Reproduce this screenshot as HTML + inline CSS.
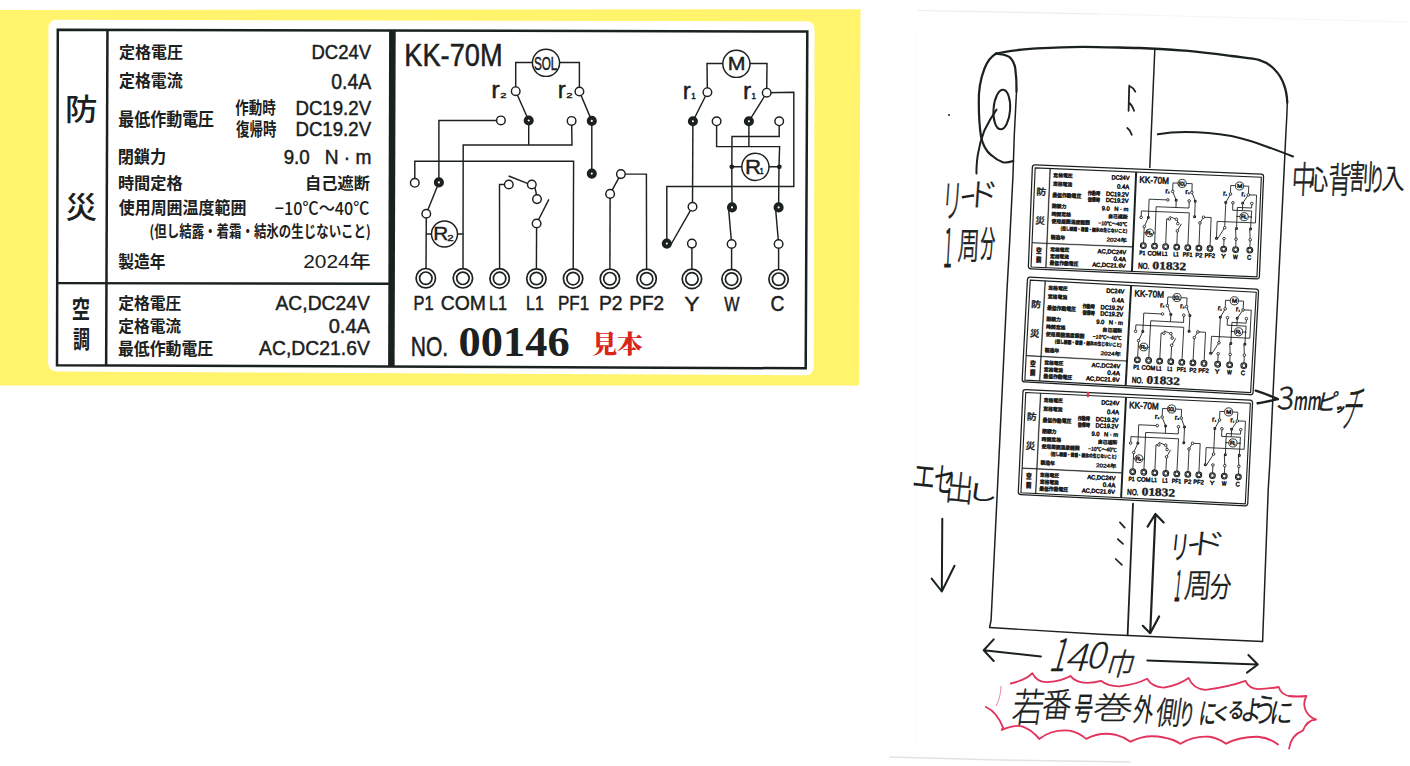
<!DOCTYPE html>
<html lang="ja"><head><meta charset="utf-8"><title>KK-70M ラベル仕様</title>
<style>html,body{margin:0;padding:0;background:#fff}svg{display:block}text{white-space:pre}</style></head><body>
<svg width="1410" height="766" viewBox="0 0 1410 766">
<rect width="1410" height="766" fill="#fff"/>
<polygon points="0,10 860.5,9.2 858.9,385.4 0,385.4" fill="#fff46c"/>
<g id="biglabel"><path d="M57,19.8 L806,21.3 Q814.6,21.4 814.6,30 L813.8,366 Q813.7,375.6 805,375.3 L57,371.4 Q48.1,371.3 48.1,362.5 L48.4,28.5 Q48.4,19.8 57,19.8 Z" fill="#fff"/>
<polygon points="57.8,29.7 807.3,31.5 805.7,368.3 57.0,365.2" fill="none" stroke="#1b2020" stroke-width="2.50"/>
<polygon points="106.2,29.8 108.7,29.8 107.4,365.4 104.9,365.4" fill="#1b2020" stroke="#1b2020" stroke-width="0.00"/>
<polygon points="389.1,30.4 395.7,30.4 394.6,367 388.1,367" fill="#1b2020"/>
<polygon points="57.3,281.9 389,282.6 389,285.0 57.3,284.2" fill="#1b2020" stroke="#1b2020" stroke-width="0.00"/>
<polyline points="546.0,62.4 515.7,62.4 515.7,91.2" fill="none" stroke="#1b2020" stroke-width="1.45" stroke-linejoin="miter" />
<polyline points="546.0,62.4 579.4,62.4 579.4,91.5" fill="none" stroke="#1b2020" stroke-width="1.45" stroke-linejoin="miter" />
<polyline points="515.7,91.2 528.7,120.5" fill="none" stroke="#1b2020" stroke-width="1.45" stroke-linejoin="miter" />
<polyline points="579.4,91.5 591.8,120.9" fill="none" stroke="#1b2020" stroke-width="1.45" stroke-linejoin="miter" />
<polyline points="500.9,120.4 438.9,120.4 438.9,182.4" fill="none" stroke="#1b2020" stroke-width="1.45" stroke-linejoin="miter" />
<polyline points="528.7,120.5 528.7,144.9" fill="none" stroke="#1b2020" stroke-width="1.45" stroke-linejoin="miter" />
<polyline points="571.6,120.9 572.0,144.9 463.2,144.9 463.0,270.0" fill="none" stroke="#1b2020" stroke-width="1.45" stroke-linejoin="miter" />
<polyline points="591.8,120.9 591.8,173.6" fill="none" stroke="#1b2020" stroke-width="1.45" stroke-linejoin="miter" />
<polyline points="414.8,182.8 414.8,161.2 573.6,161.2 573.2,270.0" fill="none" stroke="#1b2020" stroke-width="1.45" stroke-linejoin="miter" />
<polyline points="438.9,182.4 426.3,213.7" fill="none" stroke="#1b2020" stroke-width="1.45" stroke-linejoin="miter" />
<polyline points="426.3,213.7 426.0,270.0" fill="none" stroke="#1b2020" stroke-width="1.45" stroke-linejoin="miter" />
<polyline points="426.3,234.0 463.2,234.0" fill="none" stroke="#1b2020" stroke-width="1.45" stroke-linejoin="miter" />
<polyline points="499.6,270.0 499.5,184.5 508.8,184.5" fill="none" stroke="#1b2020" stroke-width="1.45" stroke-linejoin="miter" />
<polyline points="508.6,176.0 528.0,183.6" fill="none" stroke="#1b2020" stroke-width="1.45" stroke-linejoin="miter" />
<polyline points="534.8,187.2 536.6,195.0" fill="none" stroke="#1b2020" stroke-width="1.45" stroke-linejoin="miter" />
<polyline points="548.9,199.3 536.6,223.5" fill="none" stroke="#1b2020" stroke-width="1.45" stroke-linejoin="miter" />
<polyline points="536.6,223.5 536.4,270.0" fill="none" stroke="#1b2020" stroke-width="1.45" stroke-linejoin="miter" />
<polyline points="620.9,174.1 646.4,174.1 646.6,270.0" fill="none" stroke="#1b2020" stroke-width="1.45" stroke-linejoin="miter" />
<polyline points="620.9,174.1 610.1,193.9" fill="none" stroke="#1b2020" stroke-width="1.45" stroke-linejoin="miter" />
<polyline points="610.1,193.9 609.9,270.0" fill="none" stroke="#1b2020" stroke-width="1.45" stroke-linejoin="miter" />
<polyline points="736.0,63.4 707.0,63.4 707.4,92.2" fill="none" stroke="#1b2020" stroke-width="1.45" stroke-linejoin="miter" />
<polyline points="736.0,63.4 767.0,63.4 766.7,92.7" fill="none" stroke="#1b2020" stroke-width="1.45" stroke-linejoin="miter" />
<polyline points="707.4,92.2 692.9,121.3" fill="none" stroke="#1b2020" stroke-width="1.45" stroke-linejoin="miter" />
<polyline points="766.7,92.7 748.9,121.3" fill="none" stroke="#1b2020" stroke-width="1.45" stroke-linejoin="miter" />
<polyline points="766.7,92.7 793.8,92.3 793.8,186.4 666.8,186.4 666.8,243.6" fill="none" stroke="#1b2020" stroke-width="1.45" stroke-linejoin="miter" />
<polyline points="692.9,121.3 692.5,206.8" fill="none" stroke="#1b2020" stroke-width="1.45" stroke-linejoin="miter" />
<polyline points="716.6,121.3 716.6,146.6 779.6,146.6 779.0,166.8 778.6,207.4" fill="none" stroke="#1b2020" stroke-width="1.45" stroke-linejoin="miter" />
<polyline points="748.9,121.3 748.9,146.6" fill="none" stroke="#1b2020" stroke-width="1.45" stroke-linejoin="miter" />
<polyline points="779.2,121.3 779.2,136.5 732.0,136.5 731.8,166.8 732.0,207.4" fill="none" stroke="#1b2020" stroke-width="1.45" stroke-linejoin="miter" />
<polyline points="731.8,166.8 779.4,166.8" fill="none" stroke="#1b2020" stroke-width="1.45" stroke-linejoin="miter" />
<polyline points="692.5,206.8 669.5,247.0" fill="none" stroke="#1b2020" stroke-width="1.45" stroke-linejoin="miter" />
<polyline points="691.9,243.6 691.9,270.0" fill="none" stroke="#1b2020" stroke-width="1.45" stroke-linejoin="miter" />
<polyline points="728.6,209.0 731.3,240.0 731.6,244.0 731.6,270.0" fill="none" stroke="#1b2020" stroke-width="1.45" stroke-linejoin="miter" />
<polyline points="775.6,209.0 778.3,240.0 778.6,244.0 778.6,270.0" fill="none" stroke="#1b2020" stroke-width="1.45" stroke-linejoin="miter" />
<circle cx="546.0" cy="62.8" r="13.6" fill="#fff" stroke="#1b2020" stroke-width="1.45"/>
<circle cx="736.4" cy="63.8" r="13.6" fill="#fff" stroke="#1b2020" stroke-width="1.45"/>
<circle cx="755.4" cy="166.8" r="13.6" fill="#fff" stroke="#1b2020" stroke-width="1.45"/>
<circle cx="444.5" cy="234.0" r="13.0" fill="#fff" stroke="#1b2020" stroke-width="1.45"/>
<circle cx="515.7" cy="91.2" r="4.3" fill="#fff" stroke="#1b2020" stroke-width="1.45"/>
<circle cx="579.4" cy="91.5" r="4.3" fill="#fff" stroke="#1b2020" stroke-width="1.45"/>
<circle cx="500.9" cy="120.4" r="4.3" fill="#fff" stroke="#1b2020" stroke-width="1.45"/>
<circle cx="571.6" cy="120.9" r="4.3" fill="#fff" stroke="#1b2020" stroke-width="1.45"/>
<circle cx="414.8" cy="182.8" r="4.3" fill="#fff" stroke="#1b2020" stroke-width="1.45"/>
<circle cx="426.3" cy="213.7" r="4.3" fill="#fff" stroke="#1b2020" stroke-width="1.45"/>
<circle cx="508.8" cy="184.5" r="4.3" fill="#fff" stroke="#1b2020" stroke-width="1.45"/>
<circle cx="531.8" cy="184.5" r="4.3" fill="#fff" stroke="#1b2020" stroke-width="1.45"/>
<circle cx="537.0" cy="199.1" r="4.3" fill="#fff" stroke="#1b2020" stroke-width="1.45"/>
<circle cx="536.6" cy="223.5" r="4.3" fill="#fff" stroke="#1b2020" stroke-width="1.45"/>
<circle cx="620.9" cy="174.1" r="4.3" fill="#fff" stroke="#1b2020" stroke-width="1.45"/>
<circle cx="610.1" cy="193.9" r="4.3" fill="#fff" stroke="#1b2020" stroke-width="1.45"/>
<circle cx="707.4" cy="92.2" r="4.3" fill="#fff" stroke="#1b2020" stroke-width="1.45"/>
<circle cx="766.7" cy="92.7" r="4.3" fill="#fff" stroke="#1b2020" stroke-width="1.45"/>
<circle cx="716.6" cy="121.3" r="4.3" fill="#fff" stroke="#1b2020" stroke-width="1.45"/>
<circle cx="779.2" cy="121.3" r="4.3" fill="#fff" stroke="#1b2020" stroke-width="1.45"/>
<circle cx="692.5" cy="206.8" r="4.3" fill="#fff" stroke="#1b2020" stroke-width="1.45"/>
<circle cx="691.9" cy="243.6" r="4.3" fill="#fff" stroke="#1b2020" stroke-width="1.45"/>
<circle cx="731.6" cy="244.0" r="4.3" fill="#fff" stroke="#1b2020" stroke-width="1.45"/>
<circle cx="778.6" cy="244.0" r="4.3" fill="#fff" stroke="#1b2020" stroke-width="1.45"/>
<circle cx="528.7" cy="120.5" r="3.05" fill="#fff" stroke="#1b2020" stroke-width="4.0"/>
<circle cx="591.8" cy="120.9" r="3.05" fill="#fff" stroke="#1b2020" stroke-width="4.0"/>
<circle cx="438.9" cy="182.4" r="3.05" fill="#fff" stroke="#1b2020" stroke-width="4.0"/>
<circle cx="591.8" cy="173.6" r="3.05" fill="#fff" stroke="#1b2020" stroke-width="4.0"/>
<circle cx="692.9" cy="121.3" r="3.05" fill="#fff" stroke="#1b2020" stroke-width="4.0"/>
<circle cx="748.9" cy="121.3" r="3.05" fill="#fff" stroke="#1b2020" stroke-width="4.0"/>
<circle cx="666.8" cy="243.6" r="3.05" fill="#fff" stroke="#1b2020" stroke-width="4.0"/>
<circle cx="732.0" cy="207.4" r="3.05" fill="#fff" stroke="#1b2020" stroke-width="4.0"/>
<circle cx="778.6" cy="207.4" r="3.05" fill="#fff" stroke="#1b2020" stroke-width="4.0"/>
<circle cx="731.8" cy="166.8" r="2.4" fill="#1b2020"/>
<circle cx="779.3" cy="166.8" r="2.4" fill="#1b2020"/>
<circle cx="425.8" cy="278.2" r="9.7" fill="#fff" stroke="#1b2020" stroke-width="1.70"/><circle cx="425.8" cy="278.2" r="6.2" fill="#fff" stroke="#1b2020" stroke-width="1.70"/>
<circle cx="462.9" cy="278.3" r="9.7" fill="#fff" stroke="#1b2020" stroke-width="1.70"/><circle cx="462.9" cy="278.3" r="6.2" fill="#fff" stroke="#1b2020" stroke-width="1.70"/>
<circle cx="499.6" cy="278.4" r="9.7" fill="#fff" stroke="#1b2020" stroke-width="1.70"/><circle cx="499.6" cy="278.4" r="6.2" fill="#fff" stroke="#1b2020" stroke-width="1.70"/>
<circle cx="536.4" cy="278.5" r="9.7" fill="#fff" stroke="#1b2020" stroke-width="1.70"/><circle cx="536.4" cy="278.5" r="6.2" fill="#fff" stroke="#1b2020" stroke-width="1.70"/>
<circle cx="573.1" cy="278.6" r="9.7" fill="#fff" stroke="#1b2020" stroke-width="1.70"/><circle cx="573.1" cy="278.6" r="6.2" fill="#fff" stroke="#1b2020" stroke-width="1.70"/>
<circle cx="609.9" cy="278.7" r="9.7" fill="#fff" stroke="#1b2020" stroke-width="1.70"/><circle cx="609.9" cy="278.7" r="6.2" fill="#fff" stroke="#1b2020" stroke-width="1.70"/>
<circle cx="646.6" cy="278.8" r="9.7" fill="#fff" stroke="#1b2020" stroke-width="1.70"/><circle cx="646.6" cy="278.8" r="6.2" fill="#fff" stroke="#1b2020" stroke-width="1.70"/>
<circle cx="691.9" cy="278.9" r="9.7" fill="#fff" stroke="#1b2020" stroke-width="1.70"/><circle cx="691.9" cy="278.9" r="6.2" fill="#fff" stroke="#1b2020" stroke-width="1.70"/>
<circle cx="731.6" cy="279.1" r="9.7" fill="#fff" stroke="#1b2020" stroke-width="1.70"/><circle cx="731.6" cy="279.1" r="6.2" fill="#fff" stroke="#1b2020" stroke-width="1.70"/>
<circle cx="778.6" cy="279.2" r="9.7" fill="#fff" stroke="#1b2020" stroke-width="1.70"/><circle cx="778.6" cy="279.2" r="6.2" fill="#fff" stroke="#1b2020" stroke-width="1.70"/>
<text transform="matrix(0.5423 0.0000 0.0000 0.4964 65.09 120.32)" font-family='"Noto Sans CJK JP", sans-serif' font-weight="500" font-size="60" fill="#1b2020">防</text>
<text transform="matrix(0.5255 0.0000 0.0000 0.5036 65.52 218.48)" font-family='"Noto Sans CJK JP", sans-serif' font-weight="500" font-size="60" fill="#1b2020">災</text>
<text transform="matrix(0.3058 0.0000 0.0000 0.4073 71.68 317.77)" font-family='"Noto Sans CJK JP", sans-serif' font-weight="700" font-size="60" fill="#1b2020">空</text>
<text transform="matrix(0.2833 0.0000 0.0000 0.4018 72.93 347.89)" font-family='"Noto Sans CJK JP", sans-serif' font-weight="700" font-size="60" fill="#1b2020">調</text>
<text transform="matrix(0.2669 0.0000 0.0000 0.2672 118.97 57.80)" font-family='"Noto Sans CJK JP", sans-serif' font-weight="700" font-size="60" fill="#1b2020">定格電圧</text>
<text transform="matrix(0.3085 0.0000 0.0000 0.3463 311.46 58.70)" font-family='"Liberation Sans", sans-serif' font-weight="400" font-size="60" stroke="#1b2020" stroke-width="1.38" stroke-linejoin="round" fill="#1b2020">DC24V</text>
<text transform="matrix(0.2658 0.0000 0.0000 0.2776 118.97 87.33)" font-family='"Noto Sans CJK JP", sans-serif' font-weight="700" font-size="60" fill="#1b2020">定格電流</text>
<text transform="matrix(0.3240 0.0000 0.0000 0.3561 331.25 88.90)" font-family='"Liberation Sans", sans-serif' font-weight="400" font-size="60" stroke="#1b2020" stroke-width="1.32" stroke-linejoin="round" fill="#1b2020">0.4A</text>
<text transform="matrix(0.2665 0.0000 0.0000 0.3000 118.20 125.70)" font-family='"Noto Sans CJK JP", sans-serif' font-weight="700" font-size="60" fill="#1b2020">最低作動電圧</text>
<text transform="matrix(0.2244 0.0000 0.0000 0.2930 235.35 114.24)" font-family='"Noto Sans CJK JP", sans-serif' font-weight="700" font-size="60" fill="#1b2020">作動時</text>
<text transform="matrix(0.2243 0.0000 0.0000 0.2948 236.08 135.93)" font-family='"Noto Sans CJK JP", sans-serif' font-weight="700" font-size="60" fill="#1b2020">復帰時</text>
<text transform="matrix(0.3109 0.0000 0.0000 0.3415 295.45 114.90)" font-family='"Liberation Sans", sans-serif' font-weight="400" font-size="60" stroke="#1b2020" stroke-width="1.38" stroke-linejoin="round" fill="#1b2020">DC19.2V</text>
<text transform="matrix(0.3109 0.0000 0.0000 0.3415 295.45 136.00)" font-family='"Liberation Sans", sans-serif' font-weight="400" font-size="60" stroke="#1b2020" stroke-width="1.38" stroke-linejoin="round" fill="#1b2020">DC19.2V</text>
<text transform="matrix(0.2694 0.0000 0.0000 0.2810 117.65 162.61)" font-family='"Noto Sans CJK JP", sans-serif' font-weight="700" font-size="60" fill="#1b2020">閉鎖力</text>
<text transform="matrix(0.3128 0.0000 0.0000 0.3366 283.66 164.00)" font-family='"Liberation Sans", sans-serif' font-weight="400" font-size="60" stroke="#1b2020" stroke-width="1.39" stroke-linejoin="round" fill="#1b2020">9.0</text>
<text transform="matrix(0.3188 0.0000 0.0000 0.3293 324.71 163.90)" font-family='"Liberation Sans", sans-serif' font-weight="400" font-size="60" stroke="#1b2020" stroke-width="1.39" stroke-linejoin="round" fill="#1b2020">N · m</text>
<text transform="matrix(0.2702 0.0000 0.0000 0.2707 117.92 189.08)" font-family='"Noto Sans CJK JP", sans-serif' font-weight="700" font-size="60" fill="#1b2020">時間定格</text>
<text transform="matrix(0.2712 0.0000 0.0000 0.2707 305.06 189.08)" font-family='"Noto Sans CJK JP", sans-serif' font-weight="700" font-size="60" fill="#1b2020">自己遮断</text>
<text transform="matrix(0.2659 0.0000 0.0000 0.2793 118.73 213.92)" font-family='"Noto Sans CJK JP", sans-serif' font-weight="700" font-size="60" fill="#1b2020">使用周囲温度範囲</text>
<text transform="matrix(0.2700 0.0000 0.0000 0.2979 274.76 214.50)" font-family='"Noto Sans CJK JP", sans-serif' font-weight="500" font-size="60" fill="#1b2020">−10℃～40℃</text>
<text transform="matrix(0.2076 0.0000 0.0000 0.2641 149.56 236.83)" font-family='"Noto Sans CJK JP", sans-serif' font-weight="700" font-size="60" fill="#1b2020">(但し結露・着霜・結氷の生じないこと)</text>
<text transform="matrix(0.2625 0.0000 0.0000 0.2862 118.18 268.08)" font-family='"Noto Sans CJK JP", sans-serif' font-weight="700" font-size="60" fill="#1b2020">製造年</text>
<text transform="matrix(0.3484 0.0000 0.0000 0.2964 303.25 268.32)" font-family='"Liberation Sans", "Noto Sans CJK JP", sans-serif' font-weight="500" font-size="60" fill="#1b2020">2024年</text>
<text transform="matrix(0.2636 0.0000 0.0000 0.2638 118.17 308.62)" font-family='"Noto Sans CJK JP", sans-serif' font-weight="700" font-size="60" fill="#1b2020">定格電圧</text>
<text transform="matrix(0.3218 0.0000 0.0000 0.3375 275.50 309.54)" font-family='"Liberation Sans", sans-serif' font-weight="400" font-size="60" stroke="#1b2020" stroke-width="1.37" stroke-linejoin="round" fill="#1b2020">AC,DC24V</text>
<text transform="matrix(0.2624 0.0000 0.0000 0.2741 118.18 331.96)" font-family='"Noto Sans CJK JP", sans-serif' font-weight="700" font-size="60" fill="#1b2020">定格電流</text>
<text transform="matrix(0.3339 0.0000 0.0000 0.3439 328.73 333.20)" font-family='"Liberation Sans", sans-serif' font-weight="400" font-size="60" stroke="#1b2020" stroke-width="1.33" stroke-linejoin="round" fill="#1b2020">0.4A</text>
<text transform="matrix(0.2651 0.0000 0.0000 0.2912 117.90 354.85)" font-family='"Noto Sans CJK JP", sans-serif' font-weight="700" font-size="60" fill="#1b2020">最低作動電圧</text>
<text transform="matrix(0.3227 0.0000 0.0000 0.3271 259.10 355.11)" font-family='"Liberation Sans", sans-serif' font-weight="400" font-size="60" stroke="#1b2020" stroke-width="1.39" stroke-linejoin="round" fill="#1b2020">AC,DC21.6V</text>
<text transform="matrix(0.4541 0.0000 0.0000 0.5317 404.23 66.30)" font-family='"Liberation Sans", sans-serif' font-weight="400" font-size="60" stroke="#1b2020" stroke-width="0.92" stroke-linejoin="round" fill="#1b2020">KK-70M</text>
<text transform="matrix(0.1948 0.0000 0.0000 0.3098 533.92 69.70)" font-family='"Liberation Sans", sans-serif' font-weight="400" font-size="60" stroke="#1b2020" stroke-width="1.83" stroke-linejoin="round" fill="#1b2020">SOL</text>
<text transform="matrix(0.3550 0.0000 0.0000 0.3146 727.73 70.10)" font-family='"Liberation Sans", sans-serif' font-weight="400" font-size="60" stroke="#1b2020" stroke-width="1.35" stroke-linejoin="round" fill="#1b2020">M</text>
<text transform="matrix(0.3714 0.0000 0.0000 0.3220 744.94 173.70)" font-family='"Liberation Sans", sans-serif' font-weight="400" font-size="60" stroke="#1b2020" stroke-width="1.30" stroke-linejoin="round" fill="#1b2020">R</text>
<text transform="matrix(0.1160 0.0000 0.0000 0.1439 759.72 174.10)" font-family='"Liberation Sans", sans-serif' font-weight="400" font-size="60" stroke="#1b2020" stroke-width="3.48" stroke-linejoin="round" fill="#1b2020">1</text>
<text transform="matrix(0.3457 0.0000 0.0000 0.3049 433.37 240.20)" font-family='"Liberation Sans", sans-serif' font-weight="400" font-size="60" stroke="#1b2020" stroke-width="1.39" stroke-linejoin="round" fill="#1b2020">R</text>
<text transform="matrix(0.1889 0.0000 0.0000 0.1390 447.23 240.90)" font-family='"Liberation Sans", sans-serif' font-weight="400" font-size="60" stroke="#1b2020" stroke-width="2.78" stroke-linejoin="round" fill="#1b2020">2</text>
<text transform="matrix(0.4267 0.0000 0.0000 0.3968 491.29 97.90)" font-family='"Liberation Sans", sans-serif' font-weight="400" font-size="60" stroke="#1b2020" stroke-width="1.09" stroke-linejoin="round" fill="#1b2020">r</text>
<text transform="matrix(0.1852 0.0000 0.0000 0.1317 500.14 97.90)" font-family='"Liberation Sans", sans-serif' font-weight="400" font-size="60" stroke="#1b2020" stroke-width="2.88" stroke-linejoin="round" fill="#1b2020">2</text>
<text transform="matrix(0.4000 0.0000 0.0000 0.3968 557.80 97.90)" font-family='"Liberation Sans", sans-serif' font-weight="400" font-size="60" stroke="#1b2020" stroke-width="1.13" stroke-linejoin="round" fill="#1b2020">r</text>
<text transform="matrix(0.1889 0.0000 0.0000 0.1317 566.33 97.90)" font-family='"Liberation Sans", sans-serif' font-weight="400" font-size="60" stroke="#1b2020" stroke-width="2.85" stroke-linejoin="round" fill="#1b2020">2</text>
<text transform="matrix(0.4000 0.0000 0.0000 0.3968 682.80 98.50)" font-family='"Liberation Sans", sans-serif' font-weight="400" font-size="60" stroke="#1b2020" stroke-width="1.13" stroke-linejoin="round" fill="#1b2020">r</text>
<text transform="matrix(0.1360 0.0000 0.0000 0.1390 691.32 98.50)" font-family='"Liberation Sans", sans-serif' font-weight="400" font-size="60" stroke="#1b2020" stroke-width="3.27" stroke-linejoin="round" fill="#1b2020">1</text>
<text transform="matrix(0.4067 0.0000 0.0000 0.3968 743.07 98.50)" font-family='"Liberation Sans", sans-serif' font-weight="400" font-size="60" stroke="#1b2020" stroke-width="1.12" stroke-linejoin="round" fill="#1b2020">r</text>
<text transform="matrix(0.1360 0.0000 0.0000 0.1390 751.52 98.50)" font-family='"Liberation Sans", sans-serif' font-weight="400" font-size="60" stroke="#1b2020" stroke-width="3.27" stroke-linejoin="round" fill="#1b2020">1</text>
<text transform="matrix(0.2738 0.0000 0.0000 0.3390 413.53 309.60)" font-family='"Liberation Sans", sans-serif' font-weight="400" font-size="60" stroke="#1b2020" stroke-width="1.48" stroke-linejoin="round" fill="#1b2020">P1</text>
<text transform="matrix(0.3235 0.0000 0.0000 0.3488 440.73 309.80)" font-family='"Liberation Sans", sans-serif' font-weight="400" font-size="60" stroke="#1b2020" stroke-width="1.34" stroke-linejoin="round" fill="#1b2020">COM</text>
<text transform="matrix(0.2712 0.0000 0.0000 0.3390 489.04 309.60)" font-family='"Liberation Sans", sans-serif' font-weight="400" font-size="60" stroke="#1b2020" stroke-width="1.48" stroke-linejoin="round" fill="#1b2020">L1</text>
<text transform="matrix(0.2644 0.0000 0.0000 0.3390 526.08 309.60)" font-family='"Liberation Sans", sans-serif' font-weight="400" font-size="60" stroke="#1b2020" stroke-width="1.50" stroke-linejoin="round" fill="#1b2020">L1</text>
<text transform="matrix(0.2843 0.0000 0.0000 0.3390 557.98 309.60)" font-family='"Liberation Sans", sans-serif' font-weight="400" font-size="60" stroke="#1b2020" stroke-width="1.45" stroke-linejoin="round" fill="#1b2020">PF1</text>
<text transform="matrix(0.3215 0.0000 0.0000 0.3390 598.89 309.60)" font-family='"Liberation Sans", sans-serif' font-weight="400" font-size="60" stroke="#1b2020" stroke-width="1.36" stroke-linejoin="round" fill="#1b2020">P2</text>
<text transform="matrix(0.3157 0.0000 0.0000 0.3390 629.32 309.60)" font-family='"Liberation Sans", sans-serif' font-weight="400" font-size="60" stroke="#1b2020" stroke-width="1.38" stroke-linejoin="round" fill="#1b2020">PF2</text>
<text transform="matrix(0.3833 0.0000 0.0000 0.3415 684.23 310.50)" font-family='"Liberation Sans", sans-serif' font-weight="400" font-size="60" stroke="#1b2020" stroke-width="1.24" stroke-linejoin="round" fill="#1b2020">Y</text>
<text transform="matrix(0.2696 0.0000 0.0000 0.3463 724.20 310.90)" font-family='"Liberation Sans", sans-serif' font-weight="400" font-size="60" stroke="#1b2020" stroke-width="1.47" stroke-linejoin="round" fill="#1b2020">W</text>
<text transform="matrix(0.3211 0.0000 0.0000 0.3610 770.44 311.30)" font-family='"Liberation Sans", sans-serif' font-weight="400" font-size="60" stroke="#1b2020" stroke-width="1.32" stroke-linejoin="round" fill="#1b2020">C</text>
<text transform="matrix(0.3510 0.0000 0.0000 0.4756 410.74 355.90)" font-family='"Liberation Sans", sans-serif' font-weight="400" font-size="60" stroke="#1b2020" stroke-width="1.10" stroke-linejoin="round" fill="#1b2020">NO.</text>
<text transform="matrix(0.7404 0.0000 0.0000 0.7026 458.62 356.30)" font-family='"Liberation Serif", "Noto Serif CJK SC", serif' font-weight="700" font-size="60" fill="#1b2020">00146</text>
<text transform="matrix(0.4239 0.0000 0.0000 0.4121 591.75 352.83)" font-family='"Liberation Serif", "Noto Serif CJK SC", serif' font-weight="900" font-size="60" fill="#d9261c">見本</text></g>
<g id="sketch">
<g transform="translate(1032.4 164.8) rotate(2.25) scale(0.3020 0.2960) translate(-48.2 -19.8)"><path d="M57,19.8 L806,21.3 Q814.6,21.4 814.6,30 L813.8,366 Q813.7,375.6 805,375.3 L57,371.4 Q48.1,371.3 48.1,362.5 L48.4,28.5 Q48.4,19.8 57,19.8 Z" fill="#fff" stroke="#1b2020" stroke-width="4.2"/>
<polygon points="57.8,29.7 807.3,31.5 805.7,368.3 57.0,365.2" fill="none" stroke="#1b2020" stroke-width="3.75"/>
<polygon points="106.2,29.8 108.7,29.8 107.4,365.4 104.9,365.4" fill="#1b2020" stroke="#1b2020" stroke-width="1.25"/>
<polygon points="389.1,30.4 395.7,30.4 394.6,367 388.1,367" fill="#1b2020"/>
<polygon points="57.3,281.9 389,282.6 389,285.0 57.3,284.2" fill="#1b2020" stroke="#1b2020" stroke-width="1.25"/>
<polyline points="546.0,62.4 515.7,62.4 515.7,91.2" fill="none" stroke="#1b2020" stroke-width="2.90" stroke-linejoin="miter" />
<polyline points="546.0,62.4 579.4,62.4 579.4,91.5" fill="none" stroke="#1b2020" stroke-width="2.90" stroke-linejoin="miter" />
<polyline points="515.7,91.2 528.7,120.5" fill="none" stroke="#1b2020" stroke-width="2.90" stroke-linejoin="miter" />
<polyline points="579.4,91.5 591.8,120.9" fill="none" stroke="#1b2020" stroke-width="2.90" stroke-linejoin="miter" />
<polyline points="500.9,120.4 438.9,120.4 438.9,182.4" fill="none" stroke="#1b2020" stroke-width="2.90" stroke-linejoin="miter" />
<polyline points="528.7,120.5 528.7,144.9" fill="none" stroke="#1b2020" stroke-width="2.90" stroke-linejoin="miter" />
<polyline points="571.6,120.9 572.0,144.9 463.2,144.9 463.0,270.0" fill="none" stroke="#1b2020" stroke-width="2.90" stroke-linejoin="miter" />
<polyline points="591.8,120.9 591.8,173.6" fill="none" stroke="#1b2020" stroke-width="2.90" stroke-linejoin="miter" />
<polyline points="414.8,182.8 414.8,161.2 573.6,161.2 573.2,270.0" fill="none" stroke="#1b2020" stroke-width="2.90" stroke-linejoin="miter" />
<polyline points="438.9,182.4 426.3,213.7" fill="none" stroke="#1b2020" stroke-width="2.90" stroke-linejoin="miter" />
<polyline points="426.3,213.7 426.0,270.0" fill="none" stroke="#1b2020" stroke-width="2.90" stroke-linejoin="miter" />
<polyline points="426.3,234.0 463.2,234.0" fill="none" stroke="#1b2020" stroke-width="2.90" stroke-linejoin="miter" />
<polyline points="499.6,270.0 499.5,184.5 508.8,184.5" fill="none" stroke="#1b2020" stroke-width="2.90" stroke-linejoin="miter" />
<polyline points="508.6,176.0 528.0,183.6" fill="none" stroke="#1b2020" stroke-width="2.90" stroke-linejoin="miter" />
<polyline points="534.8,187.2 536.6,195.0" fill="none" stroke="#1b2020" stroke-width="2.90" stroke-linejoin="miter" />
<polyline points="548.9,199.3 536.6,223.5" fill="none" stroke="#1b2020" stroke-width="2.90" stroke-linejoin="miter" />
<polyline points="536.6,223.5 536.4,270.0" fill="none" stroke="#1b2020" stroke-width="2.90" stroke-linejoin="miter" />
<polyline points="620.9,174.1 646.4,174.1 646.6,270.0" fill="none" stroke="#1b2020" stroke-width="2.90" stroke-linejoin="miter" />
<polyline points="620.9,174.1 610.1,193.9" fill="none" stroke="#1b2020" stroke-width="2.90" stroke-linejoin="miter" />
<polyline points="610.1,193.9 609.9,270.0" fill="none" stroke="#1b2020" stroke-width="2.90" stroke-linejoin="miter" />
<polyline points="736.0,63.4 707.0,63.4 707.4,92.2" fill="none" stroke="#1b2020" stroke-width="2.90" stroke-linejoin="miter" />
<polyline points="736.0,63.4 767.0,63.4 766.7,92.7" fill="none" stroke="#1b2020" stroke-width="2.90" stroke-linejoin="miter" />
<polyline points="707.4,92.2 692.9,121.3" fill="none" stroke="#1b2020" stroke-width="2.90" stroke-linejoin="miter" />
<polyline points="766.7,92.7 748.9,121.3" fill="none" stroke="#1b2020" stroke-width="2.90" stroke-linejoin="miter" />
<polyline points="766.7,92.7 793.8,92.3 793.8,186.4 666.8,186.4 666.8,243.6" fill="none" stroke="#1b2020" stroke-width="2.90" stroke-linejoin="miter" />
<polyline points="692.9,121.3 692.5,206.8" fill="none" stroke="#1b2020" stroke-width="2.90" stroke-linejoin="miter" />
<polyline points="716.6,121.3 716.6,146.6 779.6,146.6 779.0,166.8 778.6,207.4" fill="none" stroke="#1b2020" stroke-width="2.90" stroke-linejoin="miter" />
<polyline points="748.9,121.3 748.9,146.6" fill="none" stroke="#1b2020" stroke-width="2.90" stroke-linejoin="miter" />
<polyline points="779.2,121.3 779.2,136.5 732.0,136.5 731.8,166.8 732.0,207.4" fill="none" stroke="#1b2020" stroke-width="2.90" stroke-linejoin="miter" />
<polyline points="731.8,166.8 779.4,166.8" fill="none" stroke="#1b2020" stroke-width="2.90" stroke-linejoin="miter" />
<polyline points="692.5,206.8 669.5,247.0" fill="none" stroke="#1b2020" stroke-width="2.90" stroke-linejoin="miter" />
<polyline points="691.9,243.6 691.9,270.0" fill="none" stroke="#1b2020" stroke-width="2.90" stroke-linejoin="miter" />
<polyline points="728.6,209.0 731.3,240.0 731.6,244.0 731.6,270.0" fill="none" stroke="#1b2020" stroke-width="2.90" stroke-linejoin="miter" />
<polyline points="775.6,209.0 778.3,240.0 778.6,244.0 778.6,270.0" fill="none" stroke="#1b2020" stroke-width="2.90" stroke-linejoin="miter" />
<circle cx="546.0" cy="62.8" r="13.6" fill="#fff" stroke="#1b2020" stroke-width="2.90"/>
<circle cx="736.4" cy="63.8" r="13.6" fill="#fff" stroke="#1b2020" stroke-width="2.90"/>
<circle cx="755.4" cy="166.8" r="13.6" fill="#fff" stroke="#1b2020" stroke-width="2.90"/>
<circle cx="444.5" cy="234.0" r="13.0" fill="#fff" stroke="#1b2020" stroke-width="2.90"/>
<circle cx="515.7" cy="91.2" r="4.3" fill="#fff" stroke="#1b2020" stroke-width="2.90"/>
<circle cx="579.4" cy="91.5" r="4.3" fill="#fff" stroke="#1b2020" stroke-width="2.90"/>
<circle cx="500.9" cy="120.4" r="4.3" fill="#fff" stroke="#1b2020" stroke-width="2.90"/>
<circle cx="571.6" cy="120.9" r="4.3" fill="#fff" stroke="#1b2020" stroke-width="2.90"/>
<circle cx="414.8" cy="182.8" r="4.3" fill="#fff" stroke="#1b2020" stroke-width="2.90"/>
<circle cx="426.3" cy="213.7" r="4.3" fill="#fff" stroke="#1b2020" stroke-width="2.90"/>
<circle cx="508.8" cy="184.5" r="4.3" fill="#fff" stroke="#1b2020" stroke-width="2.90"/>
<circle cx="531.8" cy="184.5" r="4.3" fill="#fff" stroke="#1b2020" stroke-width="2.90"/>
<circle cx="537.0" cy="199.1" r="4.3" fill="#fff" stroke="#1b2020" stroke-width="2.90"/>
<circle cx="536.6" cy="223.5" r="4.3" fill="#fff" stroke="#1b2020" stroke-width="2.90"/>
<circle cx="620.9" cy="174.1" r="4.3" fill="#fff" stroke="#1b2020" stroke-width="2.90"/>
<circle cx="610.1" cy="193.9" r="4.3" fill="#fff" stroke="#1b2020" stroke-width="2.90"/>
<circle cx="707.4" cy="92.2" r="4.3" fill="#fff" stroke="#1b2020" stroke-width="2.90"/>
<circle cx="766.7" cy="92.7" r="4.3" fill="#fff" stroke="#1b2020" stroke-width="2.90"/>
<circle cx="716.6" cy="121.3" r="4.3" fill="#fff" stroke="#1b2020" stroke-width="2.90"/>
<circle cx="779.2" cy="121.3" r="4.3" fill="#fff" stroke="#1b2020" stroke-width="2.90"/>
<circle cx="692.5" cy="206.8" r="4.3" fill="#fff" stroke="#1b2020" stroke-width="2.90"/>
<circle cx="691.9" cy="243.6" r="4.3" fill="#fff" stroke="#1b2020" stroke-width="2.90"/>
<circle cx="731.6" cy="244.0" r="4.3" fill="#fff" stroke="#1b2020" stroke-width="2.90"/>
<circle cx="778.6" cy="244.0" r="4.3" fill="#fff" stroke="#1b2020" stroke-width="2.90"/>
<circle cx="528.7" cy="120.5" r="3.05" fill="#fff" stroke="#1b2020" stroke-width="4.0"/>
<circle cx="591.8" cy="120.9" r="3.05" fill="#fff" stroke="#1b2020" stroke-width="4.0"/>
<circle cx="438.9" cy="182.4" r="3.05" fill="#fff" stroke="#1b2020" stroke-width="4.0"/>
<circle cx="591.8" cy="173.6" r="3.05" fill="#fff" stroke="#1b2020" stroke-width="4.0"/>
<circle cx="692.9" cy="121.3" r="3.05" fill="#fff" stroke="#1b2020" stroke-width="4.0"/>
<circle cx="748.9" cy="121.3" r="3.05" fill="#fff" stroke="#1b2020" stroke-width="4.0"/>
<circle cx="666.8" cy="243.6" r="3.05" fill="#fff" stroke="#1b2020" stroke-width="4.0"/>
<circle cx="732.0" cy="207.4" r="3.05" fill="#fff" stroke="#1b2020" stroke-width="4.0"/>
<circle cx="778.6" cy="207.4" r="3.05" fill="#fff" stroke="#1b2020" stroke-width="4.0"/>
<circle cx="731.8" cy="166.8" r="2.4" fill="#1b2020"/>
<circle cx="779.3" cy="166.8" r="2.4" fill="#1b2020"/>
<circle cx="425.8" cy="278.2" r="9.7" fill="#fff" stroke="#1b2020" stroke-width="3.40"/><circle cx="425.8" cy="278.2" r="6.2" fill="#fff" stroke="#1b2020" stroke-width="3.40"/>
<circle cx="462.9" cy="278.3" r="9.7" fill="#fff" stroke="#1b2020" stroke-width="3.40"/><circle cx="462.9" cy="278.3" r="6.2" fill="#fff" stroke="#1b2020" stroke-width="3.40"/>
<circle cx="499.6" cy="278.4" r="9.7" fill="#fff" stroke="#1b2020" stroke-width="3.40"/><circle cx="499.6" cy="278.4" r="6.2" fill="#fff" stroke="#1b2020" stroke-width="3.40"/>
<circle cx="536.4" cy="278.5" r="9.7" fill="#fff" stroke="#1b2020" stroke-width="3.40"/><circle cx="536.4" cy="278.5" r="6.2" fill="#fff" stroke="#1b2020" stroke-width="3.40"/>
<circle cx="573.1" cy="278.6" r="9.7" fill="#fff" stroke="#1b2020" stroke-width="3.40"/><circle cx="573.1" cy="278.6" r="6.2" fill="#fff" stroke="#1b2020" stroke-width="3.40"/>
<circle cx="609.9" cy="278.7" r="9.7" fill="#fff" stroke="#1b2020" stroke-width="3.40"/><circle cx="609.9" cy="278.7" r="6.2" fill="#fff" stroke="#1b2020" stroke-width="3.40"/>
<circle cx="646.6" cy="278.8" r="9.7" fill="#fff" stroke="#1b2020" stroke-width="3.40"/><circle cx="646.6" cy="278.8" r="6.2" fill="#fff" stroke="#1b2020" stroke-width="3.40"/>
<circle cx="691.9" cy="278.9" r="9.7" fill="#fff" stroke="#1b2020" stroke-width="3.40"/><circle cx="691.9" cy="278.9" r="6.2" fill="#fff" stroke="#1b2020" stroke-width="3.40"/>
<circle cx="731.6" cy="279.1" r="9.7" fill="#fff" stroke="#1b2020" stroke-width="3.40"/><circle cx="731.6" cy="279.1" r="6.2" fill="#fff" stroke="#1b2020" stroke-width="3.40"/>
<circle cx="778.6" cy="279.2" r="9.7" fill="#fff" stroke="#1b2020" stroke-width="3.40"/><circle cx="778.6" cy="279.2" r="6.2" fill="#fff" stroke="#1b2020" stroke-width="3.40"/>
<text transform="matrix(0.5423 0.0000 0.0000 0.4964 65.09 120.32)" font-family='"Noto Sans CJK JP", sans-serif' font-weight="500" font-size="60" stroke="#1b2020" stroke-width="2.51" stroke-linejoin="round" fill="#1b2020">防</text>
<text transform="matrix(0.5255 0.0000 0.0000 0.5036 65.52 218.48)" font-family='"Noto Sans CJK JP", sans-serif' font-weight="500" font-size="60" stroke="#1b2020" stroke-width="2.53" stroke-linejoin="round" fill="#1b2020">災</text>
<text transform="matrix(0.3058 0.0000 0.0000 0.4073 71.68 317.77)" font-family='"Noto Sans CJK JP", sans-serif' font-weight="700" font-size="60" stroke="#1b2020" stroke-width="3.68" stroke-linejoin="round" fill="#1b2020">空</text>
<text transform="matrix(0.2833 0.0000 0.0000 0.4018 72.93 347.89)" font-family='"Noto Sans CJK JP", sans-serif' font-weight="700" font-size="60" stroke="#1b2020" stroke-width="3.85" stroke-linejoin="round" fill="#1b2020">調</text>
<text transform="matrix(0.2669 0.0000 0.0000 0.2672 118.97 57.80)" font-family='"Noto Sans CJK JP", sans-serif' font-weight="700" font-size="60" stroke="#1b2020" stroke-width="4.87" stroke-linejoin="round" fill="#1b2020">定格電圧</text>
<text transform="matrix(0.3085 0.0000 0.0000 0.3463 311.46 58.70)" font-family='"Liberation Sans", sans-serif' font-weight="400" font-size="60" stroke="#1b2020" stroke-width="5.35" stroke-linejoin="round" fill="#1b2020">DC24V</text>
<text transform="matrix(0.2658 0.0000 0.0000 0.2776 118.97 87.33)" font-family='"Noto Sans CJK JP", sans-serif' font-weight="700" font-size="60" stroke="#1b2020" stroke-width="4.79" stroke-linejoin="round" fill="#1b2020">定格電流</text>
<text transform="matrix(0.3240 0.0000 0.0000 0.3561 331.25 88.90)" font-family='"Liberation Sans", sans-serif' font-weight="400" font-size="60" stroke="#1b2020" stroke-width="5.15" stroke-linejoin="round" fill="#1b2020">0.4A</text>
<text transform="matrix(0.2665 0.0000 0.0000 0.3000 118.20 125.70)" font-family='"Noto Sans CJK JP", sans-serif' font-weight="700" font-size="60" stroke="#1b2020" stroke-width="4.60" stroke-linejoin="round" fill="#1b2020">最低作動電圧</text>
<text transform="matrix(0.2244 0.0000 0.0000 0.2930 235.35 114.24)" font-family='"Noto Sans CJK JP", sans-serif' font-weight="700" font-size="60" stroke="#1b2020" stroke-width="5.07" stroke-linejoin="round" fill="#1b2020">作動時</text>
<text transform="matrix(0.2243 0.0000 0.0000 0.2948 236.08 135.93)" font-family='"Noto Sans CJK JP", sans-serif' font-weight="700" font-size="60" stroke="#1b2020" stroke-width="5.06" stroke-linejoin="round" fill="#1b2020">復帰時</text>
<text transform="matrix(0.3109 0.0000 0.0000 0.3415 295.45 114.90)" font-family='"Liberation Sans", sans-serif' font-weight="400" font-size="60" stroke="#1b2020" stroke-width="5.37" stroke-linejoin="round" fill="#1b2020">DC19.2V</text>
<text transform="matrix(0.3109 0.0000 0.0000 0.3415 295.45 136.00)" font-family='"Liberation Sans", sans-serif' font-weight="400" font-size="60" stroke="#1b2020" stroke-width="5.37" stroke-linejoin="round" fill="#1b2020">DC19.2V</text>
<text transform="matrix(0.2694 0.0000 0.0000 0.2810 117.65 162.61)" font-family='"Noto Sans CJK JP", sans-serif' font-weight="700" font-size="60" stroke="#1b2020" stroke-width="4.72" stroke-linejoin="round" fill="#1b2020">閉鎖力</text>
<text transform="matrix(0.3128 0.0000 0.0000 0.3366 283.66 164.00)" font-family='"Liberation Sans", sans-serif' font-weight="400" font-size="60" stroke="#1b2020" stroke-width="5.39" stroke-linejoin="round" fill="#1b2020">9.0</text>
<text transform="matrix(0.3188 0.0000 0.0000 0.3293 324.71 163.90)" font-family='"Liberation Sans", sans-serif' font-weight="400" font-size="60" stroke="#1b2020" stroke-width="5.40" stroke-linejoin="round" fill="#1b2020">N · m</text>
<text transform="matrix(0.2702 0.0000 0.0000 0.2707 117.92 189.08)" font-family='"Noto Sans CJK JP", sans-serif' font-weight="700" font-size="60" stroke="#1b2020" stroke-width="4.81" stroke-linejoin="round" fill="#1b2020">時間定格</text>
<text transform="matrix(0.2712 0.0000 0.0000 0.2707 305.06 189.08)" font-family='"Noto Sans CJK JP", sans-serif' font-weight="700" font-size="60" stroke="#1b2020" stroke-width="4.80" stroke-linejoin="round" fill="#1b2020">自己遮断</text>
<text transform="matrix(0.2659 0.0000 0.0000 0.2793 118.73 213.92)" font-family='"Noto Sans CJK JP", sans-serif' font-weight="700" font-size="60" stroke="#1b2020" stroke-width="4.77" stroke-linejoin="round" fill="#1b2020">使用周囲温度範囲</text>
<text transform="matrix(0.2700 0.0000 0.0000 0.2979 274.76 214.50)" font-family='"Noto Sans CJK JP", sans-serif' font-weight="500" font-size="60" stroke="#1b2020" stroke-width="4.58" stroke-linejoin="round" fill="#1b2020">−10℃～40℃</text>
<text transform="matrix(0.2076 0.0000 0.0000 0.2641 149.56 236.83)" font-family='"Noto Sans CJK JP", sans-serif' font-weight="700" font-size="60" stroke="#1b2020" stroke-width="5.55" stroke-linejoin="round" fill="#1b2020">(但し結露・着霜・結氷の生じないこと)</text>
<text transform="matrix(0.2625 0.0000 0.0000 0.2862 118.18 268.08)" font-family='"Noto Sans CJK JP", sans-serif' font-weight="700" font-size="60" stroke="#1b2020" stroke-width="4.74" stroke-linejoin="round" fill="#1b2020">製造年</text>
<text transform="matrix(0.3484 0.0000 0.0000 0.2964 303.25 268.32)" font-family='"Liberation Sans", "Noto Sans CJK JP", sans-serif' font-weight="500" font-size="60" stroke="#1b2020" stroke-width="4.05" stroke-linejoin="round" fill="#1b2020">2024年</text>
<text transform="matrix(0.2636 0.0000 0.0000 0.2638 118.17 308.62)" font-family='"Noto Sans CJK JP", sans-serif' font-weight="700" font-size="60" stroke="#1b2020" stroke-width="4.93" stroke-linejoin="round" fill="#1b2020">定格電圧</text>
<text transform="matrix(0.3218 0.0000 0.0000 0.3375 275.50 309.54)" font-family='"Liberation Sans", sans-serif' font-weight="400" font-size="60" stroke="#1b2020" stroke-width="5.31" stroke-linejoin="round" fill="#1b2020">AC,DC24V</text>
<text transform="matrix(0.2624 0.0000 0.0000 0.2741 118.18 331.96)" font-family='"Noto Sans CJK JP", sans-serif' font-weight="700" font-size="60" stroke="#1b2020" stroke-width="4.85" stroke-linejoin="round" fill="#1b2020">定格電流</text>
<text transform="matrix(0.3339 0.0000 0.0000 0.3439 328.73 333.20)" font-family='"Liberation Sans", sans-serif' font-weight="400" font-size="60" stroke="#1b2020" stroke-width="5.16" stroke-linejoin="round" fill="#1b2020">0.4A</text>
<text transform="matrix(0.2651 0.0000 0.0000 0.2912 117.90 354.85)" font-family='"Noto Sans CJK JP", sans-serif' font-weight="700" font-size="60" stroke="#1b2020" stroke-width="4.68" stroke-linejoin="round" fill="#1b2020">最低作動電圧</text>
<text transform="matrix(0.3227 0.0000 0.0000 0.3271 259.10 355.11)" font-family='"Liberation Sans", sans-serif' font-weight="400" font-size="60" stroke="#1b2020" stroke-width="5.39" stroke-linejoin="round" fill="#1b2020">AC,DC21.6V</text>
<text transform="matrix(0.4541 0.0000 0.0000 0.5317 404.23 66.30)" font-family='"Liberation Sans", sans-serif' font-weight="400" font-size="60" stroke="#1b2020" stroke-width="3.56" stroke-linejoin="round" fill="#1b2020">KK-70M</text>
<text transform="matrix(0.1948 0.0000 0.0000 0.3098 533.92 69.70)" font-family='"Liberation Sans", sans-serif' font-weight="400" font-size="60" stroke="#1b2020" stroke-width="7.12" stroke-linejoin="round" fill="#1b2020">SOL</text>
<text transform="matrix(0.3550 0.0000 0.0000 0.3146 727.73 70.10)" font-family='"Liberation Sans", sans-serif' font-weight="400" font-size="60" stroke="#1b2020" stroke-width="5.24" stroke-linejoin="round" fill="#1b2020">M</text>
<text transform="matrix(0.3714 0.0000 0.0000 0.3220 744.94 173.70)" font-family='"Liberation Sans", sans-serif' font-weight="400" font-size="60" stroke="#1b2020" stroke-width="5.06" stroke-linejoin="round" fill="#1b2020">R</text>
<text transform="matrix(0.1160 0.0000 0.0000 0.1439 759.72 174.10)" font-family='"Liberation Sans", sans-serif' font-weight="400" font-size="60" stroke="#1b2020" stroke-width="13.54" stroke-linejoin="round" fill="#1b2020">1</text>
<text transform="matrix(0.3457 0.0000 0.0000 0.3049 433.37 240.20)" font-family='"Liberation Sans", sans-serif' font-weight="400" font-size="60" stroke="#1b2020" stroke-width="5.39" stroke-linejoin="round" fill="#1b2020">R</text>
<text transform="matrix(0.1889 0.0000 0.0000 0.1390 447.23 240.90)" font-family='"Liberation Sans", sans-serif' font-weight="400" font-size="60" stroke="#1b2020" stroke-width="10.80" stroke-linejoin="round" fill="#1b2020">2</text>
<text transform="matrix(0.4267 0.0000 0.0000 0.3968 491.29 97.90)" font-family='"Liberation Sans", sans-serif' font-weight="400" font-size="60" stroke="#1b2020" stroke-width="4.25" stroke-linejoin="round" fill="#1b2020">r</text>
<text transform="matrix(0.1852 0.0000 0.0000 0.1317 500.14 97.90)" font-family='"Liberation Sans", sans-serif' font-weight="400" font-size="60" stroke="#1b2020" stroke-width="11.21" stroke-linejoin="round" fill="#1b2020">2</text>
<text transform="matrix(0.4000 0.0000 0.0000 0.3968 557.80 97.90)" font-family='"Liberation Sans", sans-serif' font-weight="400" font-size="60" stroke="#1b2020" stroke-width="4.39" stroke-linejoin="round" fill="#1b2020">r</text>
<text transform="matrix(0.1889 0.0000 0.0000 0.1317 566.33 97.90)" font-family='"Liberation Sans", sans-serif' font-weight="400" font-size="60" stroke="#1b2020" stroke-width="11.10" stroke-linejoin="round" fill="#1b2020">2</text>
<text transform="matrix(0.4000 0.0000 0.0000 0.3968 682.80 98.50)" font-family='"Liberation Sans", sans-serif' font-weight="400" font-size="60" stroke="#1b2020" stroke-width="4.39" stroke-linejoin="round" fill="#1b2020">r</text>
<text transform="matrix(0.1360 0.0000 0.0000 0.1390 691.32 98.50)" font-family='"Liberation Sans", sans-serif' font-weight="400" font-size="60" stroke="#1b2020" stroke-width="12.73" stroke-linejoin="round" fill="#1b2020">1</text>
<text transform="matrix(0.4067 0.0000 0.0000 0.3968 743.07 98.50)" font-family='"Liberation Sans", sans-serif' font-weight="400" font-size="60" stroke="#1b2020" stroke-width="4.36" stroke-linejoin="round" fill="#1b2020">r</text>
<text transform="matrix(0.1360 0.0000 0.0000 0.1390 751.52 98.50)" font-family='"Liberation Sans", sans-serif' font-weight="400" font-size="60" stroke="#1b2020" stroke-width="12.73" stroke-linejoin="round" fill="#1b2020">1</text>
<text transform="matrix(0.2738 0.0000 0.0000 0.3390 413.53 309.60)" font-family='"Liberation Sans", sans-serif' font-weight="400" font-size="60" stroke="#1b2020" stroke-width="5.74" stroke-linejoin="round" fill="#1b2020">P1</text>
<text transform="matrix(0.3235 0.0000 0.0000 0.3488 440.73 309.80)" font-family='"Liberation Sans", sans-serif' font-weight="400" font-size="60" stroke="#1b2020" stroke-width="5.21" stroke-linejoin="round" fill="#1b2020">COM</text>
<text transform="matrix(0.2712 0.0000 0.0000 0.3390 489.04 309.60)" font-family='"Liberation Sans", sans-serif' font-weight="400" font-size="60" stroke="#1b2020" stroke-width="5.77" stroke-linejoin="round" fill="#1b2020">L1</text>
<text transform="matrix(0.2644 0.0000 0.0000 0.3390 526.08 309.60)" font-family='"Liberation Sans", sans-serif' font-weight="400" font-size="60" stroke="#1b2020" stroke-width="5.85" stroke-linejoin="round" fill="#1b2020">L1</text>
<text transform="matrix(0.2843 0.0000 0.0000 0.3390 557.98 309.60)" font-family='"Liberation Sans", sans-serif' font-weight="400" font-size="60" stroke="#1b2020" stroke-width="5.64" stroke-linejoin="round" fill="#1b2020">PF1</text>
<text transform="matrix(0.3215 0.0000 0.0000 0.3390 598.89 309.60)" font-family='"Liberation Sans", sans-serif' font-weight="400" font-size="60" stroke="#1b2020" stroke-width="5.30" stroke-linejoin="round" fill="#1b2020">P2</text>
<text transform="matrix(0.3157 0.0000 0.0000 0.3390 629.32 309.60)" font-family='"Liberation Sans", sans-serif' font-weight="400" font-size="60" stroke="#1b2020" stroke-width="5.35" stroke-linejoin="round" fill="#1b2020">PF2</text>
<text transform="matrix(0.3833 0.0000 0.0000 0.3415 684.23 310.50)" font-family='"Liberation Sans", sans-serif' font-weight="400" font-size="60" stroke="#1b2020" stroke-width="4.84" stroke-linejoin="round" fill="#1b2020">Y</text>
<text transform="matrix(0.2696 0.0000 0.0000 0.3463 724.20 310.90)" font-family='"Liberation Sans", sans-serif' font-weight="400" font-size="60" stroke="#1b2020" stroke-width="5.73" stroke-linejoin="round" fill="#1b2020">W</text>
<text transform="matrix(0.3211 0.0000 0.0000 0.3610 770.44 311.30)" font-family='"Liberation Sans", sans-serif' font-weight="400" font-size="60" stroke="#1b2020" stroke-width="5.14" stroke-linejoin="round" fill="#1b2020">C</text>
<text transform="matrix(0.3510 0.0000 0.0000 0.4756 410.74 355.90)" font-family='"Liberation Sans", sans-serif' font-weight="400" font-size="60" stroke="#1b2020" stroke-width="4.28" stroke-linejoin="round" fill="#1b2020">NO.</text>
<text transform="matrix(0.7455 0.0000 0.0000 0.6359 458.61 355.30)" font-family='"Liberation Serif", "Noto Serif CJK SC", serif' font-weight="700" font-size="60" stroke="#1b2020" stroke-width="1.89" stroke-linejoin="round" fill="#1b2020">01832</text></g>
<g transform="translate(1027.5 277.0) rotate(2.95) scale(0.3020 0.2985) translate(-48.2 -19.8)"><path d="M57,19.8 L806,21.3 Q814.6,21.4 814.6,30 L813.8,366 Q813.7,375.6 805,375.3 L57,371.4 Q48.1,371.3 48.1,362.5 L48.4,28.5 Q48.4,19.8 57,19.8 Z" fill="#fff" stroke="#1b2020" stroke-width="4.2"/>
<polygon points="57.8,29.7 807.3,31.5 805.7,368.3 57.0,365.2" fill="none" stroke="#1b2020" stroke-width="3.75"/>
<polygon points="106.2,29.8 108.7,29.8 107.4,365.4 104.9,365.4" fill="#1b2020" stroke="#1b2020" stroke-width="1.25"/>
<polygon points="389.1,30.4 395.7,30.4 394.6,367 388.1,367" fill="#1b2020"/>
<polygon points="57.3,281.9 389,282.6 389,285.0 57.3,284.2" fill="#1b2020" stroke="#1b2020" stroke-width="1.25"/>
<polyline points="546.0,62.4 515.7,62.4 515.7,91.2" fill="none" stroke="#1b2020" stroke-width="2.90" stroke-linejoin="miter" />
<polyline points="546.0,62.4 579.4,62.4 579.4,91.5" fill="none" stroke="#1b2020" stroke-width="2.90" stroke-linejoin="miter" />
<polyline points="515.7,91.2 528.7,120.5" fill="none" stroke="#1b2020" stroke-width="2.90" stroke-linejoin="miter" />
<polyline points="579.4,91.5 591.8,120.9" fill="none" stroke="#1b2020" stroke-width="2.90" stroke-linejoin="miter" />
<polyline points="500.9,120.4 438.9,120.4 438.9,182.4" fill="none" stroke="#1b2020" stroke-width="2.90" stroke-linejoin="miter" />
<polyline points="528.7,120.5 528.7,144.9" fill="none" stroke="#1b2020" stroke-width="2.90" stroke-linejoin="miter" />
<polyline points="571.6,120.9 572.0,144.9 463.2,144.9 463.0,270.0" fill="none" stroke="#1b2020" stroke-width="2.90" stroke-linejoin="miter" />
<polyline points="591.8,120.9 591.8,173.6" fill="none" stroke="#1b2020" stroke-width="2.90" stroke-linejoin="miter" />
<polyline points="414.8,182.8 414.8,161.2 573.6,161.2 573.2,270.0" fill="none" stroke="#1b2020" stroke-width="2.90" stroke-linejoin="miter" />
<polyline points="438.9,182.4 426.3,213.7" fill="none" stroke="#1b2020" stroke-width="2.90" stroke-linejoin="miter" />
<polyline points="426.3,213.7 426.0,270.0" fill="none" stroke="#1b2020" stroke-width="2.90" stroke-linejoin="miter" />
<polyline points="426.3,234.0 463.2,234.0" fill="none" stroke="#1b2020" stroke-width="2.90" stroke-linejoin="miter" />
<polyline points="499.6,270.0 499.5,184.5 508.8,184.5" fill="none" stroke="#1b2020" stroke-width="2.90" stroke-linejoin="miter" />
<polyline points="508.6,176.0 528.0,183.6" fill="none" stroke="#1b2020" stroke-width="2.90" stroke-linejoin="miter" />
<polyline points="534.8,187.2 536.6,195.0" fill="none" stroke="#1b2020" stroke-width="2.90" stroke-linejoin="miter" />
<polyline points="548.9,199.3 536.6,223.5" fill="none" stroke="#1b2020" stroke-width="2.90" stroke-linejoin="miter" />
<polyline points="536.6,223.5 536.4,270.0" fill="none" stroke="#1b2020" stroke-width="2.90" stroke-linejoin="miter" />
<polyline points="620.9,174.1 646.4,174.1 646.6,270.0" fill="none" stroke="#1b2020" stroke-width="2.90" stroke-linejoin="miter" />
<polyline points="620.9,174.1 610.1,193.9" fill="none" stroke="#1b2020" stroke-width="2.90" stroke-linejoin="miter" />
<polyline points="610.1,193.9 609.9,270.0" fill="none" stroke="#1b2020" stroke-width="2.90" stroke-linejoin="miter" />
<polyline points="736.0,63.4 707.0,63.4 707.4,92.2" fill="none" stroke="#1b2020" stroke-width="2.90" stroke-linejoin="miter" />
<polyline points="736.0,63.4 767.0,63.4 766.7,92.7" fill="none" stroke="#1b2020" stroke-width="2.90" stroke-linejoin="miter" />
<polyline points="707.4,92.2 692.9,121.3" fill="none" stroke="#1b2020" stroke-width="2.90" stroke-linejoin="miter" />
<polyline points="766.7,92.7 748.9,121.3" fill="none" stroke="#1b2020" stroke-width="2.90" stroke-linejoin="miter" />
<polyline points="766.7,92.7 793.8,92.3 793.8,186.4 666.8,186.4 666.8,243.6" fill="none" stroke="#1b2020" stroke-width="2.90" stroke-linejoin="miter" />
<polyline points="692.9,121.3 692.5,206.8" fill="none" stroke="#1b2020" stroke-width="2.90" stroke-linejoin="miter" />
<polyline points="716.6,121.3 716.6,146.6 779.6,146.6 779.0,166.8 778.6,207.4" fill="none" stroke="#1b2020" stroke-width="2.90" stroke-linejoin="miter" />
<polyline points="748.9,121.3 748.9,146.6" fill="none" stroke="#1b2020" stroke-width="2.90" stroke-linejoin="miter" />
<polyline points="779.2,121.3 779.2,136.5 732.0,136.5 731.8,166.8 732.0,207.4" fill="none" stroke="#1b2020" stroke-width="2.90" stroke-linejoin="miter" />
<polyline points="731.8,166.8 779.4,166.8" fill="none" stroke="#1b2020" stroke-width="2.90" stroke-linejoin="miter" />
<polyline points="692.5,206.8 669.5,247.0" fill="none" stroke="#1b2020" stroke-width="2.90" stroke-linejoin="miter" />
<polyline points="691.9,243.6 691.9,270.0" fill="none" stroke="#1b2020" stroke-width="2.90" stroke-linejoin="miter" />
<polyline points="728.6,209.0 731.3,240.0 731.6,244.0 731.6,270.0" fill="none" stroke="#1b2020" stroke-width="2.90" stroke-linejoin="miter" />
<polyline points="775.6,209.0 778.3,240.0 778.6,244.0 778.6,270.0" fill="none" stroke="#1b2020" stroke-width="2.90" stroke-linejoin="miter" />
<circle cx="546.0" cy="62.8" r="13.6" fill="#fff" stroke="#1b2020" stroke-width="2.90"/>
<circle cx="736.4" cy="63.8" r="13.6" fill="#fff" stroke="#1b2020" stroke-width="2.90"/>
<circle cx="755.4" cy="166.8" r="13.6" fill="#fff" stroke="#1b2020" stroke-width="2.90"/>
<circle cx="444.5" cy="234.0" r="13.0" fill="#fff" stroke="#1b2020" stroke-width="2.90"/>
<circle cx="515.7" cy="91.2" r="4.3" fill="#fff" stroke="#1b2020" stroke-width="2.90"/>
<circle cx="579.4" cy="91.5" r="4.3" fill="#fff" stroke="#1b2020" stroke-width="2.90"/>
<circle cx="500.9" cy="120.4" r="4.3" fill="#fff" stroke="#1b2020" stroke-width="2.90"/>
<circle cx="571.6" cy="120.9" r="4.3" fill="#fff" stroke="#1b2020" stroke-width="2.90"/>
<circle cx="414.8" cy="182.8" r="4.3" fill="#fff" stroke="#1b2020" stroke-width="2.90"/>
<circle cx="426.3" cy="213.7" r="4.3" fill="#fff" stroke="#1b2020" stroke-width="2.90"/>
<circle cx="508.8" cy="184.5" r="4.3" fill="#fff" stroke="#1b2020" stroke-width="2.90"/>
<circle cx="531.8" cy="184.5" r="4.3" fill="#fff" stroke="#1b2020" stroke-width="2.90"/>
<circle cx="537.0" cy="199.1" r="4.3" fill="#fff" stroke="#1b2020" stroke-width="2.90"/>
<circle cx="536.6" cy="223.5" r="4.3" fill="#fff" stroke="#1b2020" stroke-width="2.90"/>
<circle cx="620.9" cy="174.1" r="4.3" fill="#fff" stroke="#1b2020" stroke-width="2.90"/>
<circle cx="610.1" cy="193.9" r="4.3" fill="#fff" stroke="#1b2020" stroke-width="2.90"/>
<circle cx="707.4" cy="92.2" r="4.3" fill="#fff" stroke="#1b2020" stroke-width="2.90"/>
<circle cx="766.7" cy="92.7" r="4.3" fill="#fff" stroke="#1b2020" stroke-width="2.90"/>
<circle cx="716.6" cy="121.3" r="4.3" fill="#fff" stroke="#1b2020" stroke-width="2.90"/>
<circle cx="779.2" cy="121.3" r="4.3" fill="#fff" stroke="#1b2020" stroke-width="2.90"/>
<circle cx="692.5" cy="206.8" r="4.3" fill="#fff" stroke="#1b2020" stroke-width="2.90"/>
<circle cx="691.9" cy="243.6" r="4.3" fill="#fff" stroke="#1b2020" stroke-width="2.90"/>
<circle cx="731.6" cy="244.0" r="4.3" fill="#fff" stroke="#1b2020" stroke-width="2.90"/>
<circle cx="778.6" cy="244.0" r="4.3" fill="#fff" stroke="#1b2020" stroke-width="2.90"/>
<circle cx="528.7" cy="120.5" r="3.05" fill="#fff" stroke="#1b2020" stroke-width="4.0"/>
<circle cx="591.8" cy="120.9" r="3.05" fill="#fff" stroke="#1b2020" stroke-width="4.0"/>
<circle cx="438.9" cy="182.4" r="3.05" fill="#fff" stroke="#1b2020" stroke-width="4.0"/>
<circle cx="591.8" cy="173.6" r="3.05" fill="#fff" stroke="#1b2020" stroke-width="4.0"/>
<circle cx="692.9" cy="121.3" r="3.05" fill="#fff" stroke="#1b2020" stroke-width="4.0"/>
<circle cx="748.9" cy="121.3" r="3.05" fill="#fff" stroke="#1b2020" stroke-width="4.0"/>
<circle cx="666.8" cy="243.6" r="3.05" fill="#fff" stroke="#1b2020" stroke-width="4.0"/>
<circle cx="732.0" cy="207.4" r="3.05" fill="#fff" stroke="#1b2020" stroke-width="4.0"/>
<circle cx="778.6" cy="207.4" r="3.05" fill="#fff" stroke="#1b2020" stroke-width="4.0"/>
<circle cx="731.8" cy="166.8" r="2.4" fill="#1b2020"/>
<circle cx="779.3" cy="166.8" r="2.4" fill="#1b2020"/>
<circle cx="425.8" cy="278.2" r="9.7" fill="#fff" stroke="#1b2020" stroke-width="3.40"/><circle cx="425.8" cy="278.2" r="6.2" fill="#fff" stroke="#1b2020" stroke-width="3.40"/>
<circle cx="462.9" cy="278.3" r="9.7" fill="#fff" stroke="#1b2020" stroke-width="3.40"/><circle cx="462.9" cy="278.3" r="6.2" fill="#fff" stroke="#1b2020" stroke-width="3.40"/>
<circle cx="499.6" cy="278.4" r="9.7" fill="#fff" stroke="#1b2020" stroke-width="3.40"/><circle cx="499.6" cy="278.4" r="6.2" fill="#fff" stroke="#1b2020" stroke-width="3.40"/>
<circle cx="536.4" cy="278.5" r="9.7" fill="#fff" stroke="#1b2020" stroke-width="3.40"/><circle cx="536.4" cy="278.5" r="6.2" fill="#fff" stroke="#1b2020" stroke-width="3.40"/>
<circle cx="573.1" cy="278.6" r="9.7" fill="#fff" stroke="#1b2020" stroke-width="3.40"/><circle cx="573.1" cy="278.6" r="6.2" fill="#fff" stroke="#1b2020" stroke-width="3.40"/>
<circle cx="609.9" cy="278.7" r="9.7" fill="#fff" stroke="#1b2020" stroke-width="3.40"/><circle cx="609.9" cy="278.7" r="6.2" fill="#fff" stroke="#1b2020" stroke-width="3.40"/>
<circle cx="646.6" cy="278.8" r="9.7" fill="#fff" stroke="#1b2020" stroke-width="3.40"/><circle cx="646.6" cy="278.8" r="6.2" fill="#fff" stroke="#1b2020" stroke-width="3.40"/>
<circle cx="691.9" cy="278.9" r="9.7" fill="#fff" stroke="#1b2020" stroke-width="3.40"/><circle cx="691.9" cy="278.9" r="6.2" fill="#fff" stroke="#1b2020" stroke-width="3.40"/>
<circle cx="731.6" cy="279.1" r="9.7" fill="#fff" stroke="#1b2020" stroke-width="3.40"/><circle cx="731.6" cy="279.1" r="6.2" fill="#fff" stroke="#1b2020" stroke-width="3.40"/>
<circle cx="778.6" cy="279.2" r="9.7" fill="#fff" stroke="#1b2020" stroke-width="3.40"/><circle cx="778.6" cy="279.2" r="6.2" fill="#fff" stroke="#1b2020" stroke-width="3.40"/>
<text transform="matrix(0.5423 0.0000 0.0000 0.4964 65.09 120.32)" font-family='"Noto Sans CJK JP", sans-serif' font-weight="500" font-size="60" stroke="#1b2020" stroke-width="2.51" stroke-linejoin="round" fill="#1b2020">防</text>
<text transform="matrix(0.5255 0.0000 0.0000 0.5036 65.52 218.48)" font-family='"Noto Sans CJK JP", sans-serif' font-weight="500" font-size="60" stroke="#1b2020" stroke-width="2.53" stroke-linejoin="round" fill="#1b2020">災</text>
<text transform="matrix(0.3058 0.0000 0.0000 0.4073 71.68 317.77)" font-family='"Noto Sans CJK JP", sans-serif' font-weight="700" font-size="60" stroke="#1b2020" stroke-width="3.68" stroke-linejoin="round" fill="#1b2020">空</text>
<text transform="matrix(0.2833 0.0000 0.0000 0.4018 72.93 347.89)" font-family='"Noto Sans CJK JP", sans-serif' font-weight="700" font-size="60" stroke="#1b2020" stroke-width="3.85" stroke-linejoin="round" fill="#1b2020">調</text>
<text transform="matrix(0.2669 0.0000 0.0000 0.2672 118.97 57.80)" font-family='"Noto Sans CJK JP", sans-serif' font-weight="700" font-size="60" stroke="#1b2020" stroke-width="4.87" stroke-linejoin="round" fill="#1b2020">定格電圧</text>
<text transform="matrix(0.3085 0.0000 0.0000 0.3463 311.46 58.70)" font-family='"Liberation Sans", sans-serif' font-weight="400" font-size="60" stroke="#1b2020" stroke-width="5.35" stroke-linejoin="round" fill="#1b2020">DC24V</text>
<text transform="matrix(0.2658 0.0000 0.0000 0.2776 118.97 87.33)" font-family='"Noto Sans CJK JP", sans-serif' font-weight="700" font-size="60" stroke="#1b2020" stroke-width="4.79" stroke-linejoin="round" fill="#1b2020">定格電流</text>
<text transform="matrix(0.3240 0.0000 0.0000 0.3561 331.25 88.90)" font-family='"Liberation Sans", sans-serif' font-weight="400" font-size="60" stroke="#1b2020" stroke-width="5.15" stroke-linejoin="round" fill="#1b2020">0.4A</text>
<text transform="matrix(0.2665 0.0000 0.0000 0.3000 118.20 125.70)" font-family='"Noto Sans CJK JP", sans-serif' font-weight="700" font-size="60" stroke="#1b2020" stroke-width="4.60" stroke-linejoin="round" fill="#1b2020">最低作動電圧</text>
<text transform="matrix(0.2244 0.0000 0.0000 0.2930 235.35 114.24)" font-family='"Noto Sans CJK JP", sans-serif' font-weight="700" font-size="60" stroke="#1b2020" stroke-width="5.07" stroke-linejoin="round" fill="#1b2020">作動時</text>
<text transform="matrix(0.2243 0.0000 0.0000 0.2948 236.08 135.93)" font-family='"Noto Sans CJK JP", sans-serif' font-weight="700" font-size="60" stroke="#1b2020" stroke-width="5.06" stroke-linejoin="round" fill="#1b2020">復帰時</text>
<text transform="matrix(0.3109 0.0000 0.0000 0.3415 295.45 114.90)" font-family='"Liberation Sans", sans-serif' font-weight="400" font-size="60" stroke="#1b2020" stroke-width="5.37" stroke-linejoin="round" fill="#1b2020">DC19.2V</text>
<text transform="matrix(0.3109 0.0000 0.0000 0.3415 295.45 136.00)" font-family='"Liberation Sans", sans-serif' font-weight="400" font-size="60" stroke="#1b2020" stroke-width="5.37" stroke-linejoin="round" fill="#1b2020">DC19.2V</text>
<text transform="matrix(0.2694 0.0000 0.0000 0.2810 117.65 162.61)" font-family='"Noto Sans CJK JP", sans-serif' font-weight="700" font-size="60" stroke="#1b2020" stroke-width="4.72" stroke-linejoin="round" fill="#1b2020">閉鎖力</text>
<text transform="matrix(0.3128 0.0000 0.0000 0.3366 283.66 164.00)" font-family='"Liberation Sans", sans-serif' font-weight="400" font-size="60" stroke="#1b2020" stroke-width="5.39" stroke-linejoin="round" fill="#1b2020">9.0</text>
<text transform="matrix(0.3188 0.0000 0.0000 0.3293 324.71 163.90)" font-family='"Liberation Sans", sans-serif' font-weight="400" font-size="60" stroke="#1b2020" stroke-width="5.40" stroke-linejoin="round" fill="#1b2020">N · m</text>
<text transform="matrix(0.2702 0.0000 0.0000 0.2707 117.92 189.08)" font-family='"Noto Sans CJK JP", sans-serif' font-weight="700" font-size="60" stroke="#1b2020" stroke-width="4.81" stroke-linejoin="round" fill="#1b2020">時間定格</text>
<text transform="matrix(0.2712 0.0000 0.0000 0.2707 305.06 189.08)" font-family='"Noto Sans CJK JP", sans-serif' font-weight="700" font-size="60" stroke="#1b2020" stroke-width="4.80" stroke-linejoin="round" fill="#1b2020">自己遮断</text>
<text transform="matrix(0.2659 0.0000 0.0000 0.2793 118.73 213.92)" font-family='"Noto Sans CJK JP", sans-serif' font-weight="700" font-size="60" stroke="#1b2020" stroke-width="4.77" stroke-linejoin="round" fill="#1b2020">使用周囲温度範囲</text>
<text transform="matrix(0.2700 0.0000 0.0000 0.2979 274.76 214.50)" font-family='"Noto Sans CJK JP", sans-serif' font-weight="500" font-size="60" stroke="#1b2020" stroke-width="4.58" stroke-linejoin="round" fill="#1b2020">−10℃～40℃</text>
<text transform="matrix(0.2076 0.0000 0.0000 0.2641 149.56 236.83)" font-family='"Noto Sans CJK JP", sans-serif' font-weight="700" font-size="60" stroke="#1b2020" stroke-width="5.55" stroke-linejoin="round" fill="#1b2020">(但し結露・着霜・結氷の生じないこと)</text>
<text transform="matrix(0.2625 0.0000 0.0000 0.2862 118.18 268.08)" font-family='"Noto Sans CJK JP", sans-serif' font-weight="700" font-size="60" stroke="#1b2020" stroke-width="4.74" stroke-linejoin="round" fill="#1b2020">製造年</text>
<text transform="matrix(0.3484 0.0000 0.0000 0.2964 303.25 268.32)" font-family='"Liberation Sans", "Noto Sans CJK JP", sans-serif' font-weight="500" font-size="60" stroke="#1b2020" stroke-width="4.05" stroke-linejoin="round" fill="#1b2020">2024年</text>
<text transform="matrix(0.2636 0.0000 0.0000 0.2638 118.17 308.62)" font-family='"Noto Sans CJK JP", sans-serif' font-weight="700" font-size="60" stroke="#1b2020" stroke-width="4.93" stroke-linejoin="round" fill="#1b2020">定格電圧</text>
<text transform="matrix(0.3218 0.0000 0.0000 0.3375 275.50 309.54)" font-family='"Liberation Sans", sans-serif' font-weight="400" font-size="60" stroke="#1b2020" stroke-width="5.31" stroke-linejoin="round" fill="#1b2020">AC,DC24V</text>
<text transform="matrix(0.2624 0.0000 0.0000 0.2741 118.18 331.96)" font-family='"Noto Sans CJK JP", sans-serif' font-weight="700" font-size="60" stroke="#1b2020" stroke-width="4.85" stroke-linejoin="round" fill="#1b2020">定格電流</text>
<text transform="matrix(0.3339 0.0000 0.0000 0.3439 328.73 333.20)" font-family='"Liberation Sans", sans-serif' font-weight="400" font-size="60" stroke="#1b2020" stroke-width="5.16" stroke-linejoin="round" fill="#1b2020">0.4A</text>
<text transform="matrix(0.2651 0.0000 0.0000 0.2912 117.90 354.85)" font-family='"Noto Sans CJK JP", sans-serif' font-weight="700" font-size="60" stroke="#1b2020" stroke-width="4.68" stroke-linejoin="round" fill="#1b2020">最低作動電圧</text>
<text transform="matrix(0.3227 0.0000 0.0000 0.3271 259.10 355.11)" font-family='"Liberation Sans", sans-serif' font-weight="400" font-size="60" stroke="#1b2020" stroke-width="5.39" stroke-linejoin="round" fill="#1b2020">AC,DC21.6V</text>
<text transform="matrix(0.4541 0.0000 0.0000 0.5317 404.23 66.30)" font-family='"Liberation Sans", sans-serif' font-weight="400" font-size="60" stroke="#1b2020" stroke-width="3.56" stroke-linejoin="round" fill="#1b2020">KK-70M</text>
<text transform="matrix(0.1948 0.0000 0.0000 0.3098 533.92 69.70)" font-family='"Liberation Sans", sans-serif' font-weight="400" font-size="60" stroke="#1b2020" stroke-width="7.12" stroke-linejoin="round" fill="#1b2020">SOL</text>
<text transform="matrix(0.3550 0.0000 0.0000 0.3146 727.73 70.10)" font-family='"Liberation Sans", sans-serif' font-weight="400" font-size="60" stroke="#1b2020" stroke-width="5.24" stroke-linejoin="round" fill="#1b2020">M</text>
<text transform="matrix(0.3714 0.0000 0.0000 0.3220 744.94 173.70)" font-family='"Liberation Sans", sans-serif' font-weight="400" font-size="60" stroke="#1b2020" stroke-width="5.06" stroke-linejoin="round" fill="#1b2020">R</text>
<text transform="matrix(0.1160 0.0000 0.0000 0.1439 759.72 174.10)" font-family='"Liberation Sans", sans-serif' font-weight="400" font-size="60" stroke="#1b2020" stroke-width="13.54" stroke-linejoin="round" fill="#1b2020">1</text>
<text transform="matrix(0.3457 0.0000 0.0000 0.3049 433.37 240.20)" font-family='"Liberation Sans", sans-serif' font-weight="400" font-size="60" stroke="#1b2020" stroke-width="5.39" stroke-linejoin="round" fill="#1b2020">R</text>
<text transform="matrix(0.1889 0.0000 0.0000 0.1390 447.23 240.90)" font-family='"Liberation Sans", sans-serif' font-weight="400" font-size="60" stroke="#1b2020" stroke-width="10.80" stroke-linejoin="round" fill="#1b2020">2</text>
<text transform="matrix(0.4267 0.0000 0.0000 0.3968 491.29 97.90)" font-family='"Liberation Sans", sans-serif' font-weight="400" font-size="60" stroke="#1b2020" stroke-width="4.25" stroke-linejoin="round" fill="#1b2020">r</text>
<text transform="matrix(0.1852 0.0000 0.0000 0.1317 500.14 97.90)" font-family='"Liberation Sans", sans-serif' font-weight="400" font-size="60" stroke="#1b2020" stroke-width="11.21" stroke-linejoin="round" fill="#1b2020">2</text>
<text transform="matrix(0.4000 0.0000 0.0000 0.3968 557.80 97.90)" font-family='"Liberation Sans", sans-serif' font-weight="400" font-size="60" stroke="#1b2020" stroke-width="4.39" stroke-linejoin="round" fill="#1b2020">r</text>
<text transform="matrix(0.1889 0.0000 0.0000 0.1317 566.33 97.90)" font-family='"Liberation Sans", sans-serif' font-weight="400" font-size="60" stroke="#1b2020" stroke-width="11.10" stroke-linejoin="round" fill="#1b2020">2</text>
<text transform="matrix(0.4000 0.0000 0.0000 0.3968 682.80 98.50)" font-family='"Liberation Sans", sans-serif' font-weight="400" font-size="60" stroke="#1b2020" stroke-width="4.39" stroke-linejoin="round" fill="#1b2020">r</text>
<text transform="matrix(0.1360 0.0000 0.0000 0.1390 691.32 98.50)" font-family='"Liberation Sans", sans-serif' font-weight="400" font-size="60" stroke="#1b2020" stroke-width="12.73" stroke-linejoin="round" fill="#1b2020">1</text>
<text transform="matrix(0.4067 0.0000 0.0000 0.3968 743.07 98.50)" font-family='"Liberation Sans", sans-serif' font-weight="400" font-size="60" stroke="#1b2020" stroke-width="4.36" stroke-linejoin="round" fill="#1b2020">r</text>
<text transform="matrix(0.1360 0.0000 0.0000 0.1390 751.52 98.50)" font-family='"Liberation Sans", sans-serif' font-weight="400" font-size="60" stroke="#1b2020" stroke-width="12.73" stroke-linejoin="round" fill="#1b2020">1</text>
<text transform="matrix(0.2738 0.0000 0.0000 0.3390 413.53 309.60)" font-family='"Liberation Sans", sans-serif' font-weight="400" font-size="60" stroke="#1b2020" stroke-width="5.74" stroke-linejoin="round" fill="#1b2020">P1</text>
<text transform="matrix(0.3235 0.0000 0.0000 0.3488 440.73 309.80)" font-family='"Liberation Sans", sans-serif' font-weight="400" font-size="60" stroke="#1b2020" stroke-width="5.21" stroke-linejoin="round" fill="#1b2020">COM</text>
<text transform="matrix(0.2712 0.0000 0.0000 0.3390 489.04 309.60)" font-family='"Liberation Sans", sans-serif' font-weight="400" font-size="60" stroke="#1b2020" stroke-width="5.77" stroke-linejoin="round" fill="#1b2020">L1</text>
<text transform="matrix(0.2644 0.0000 0.0000 0.3390 526.08 309.60)" font-family='"Liberation Sans", sans-serif' font-weight="400" font-size="60" stroke="#1b2020" stroke-width="5.85" stroke-linejoin="round" fill="#1b2020">L1</text>
<text transform="matrix(0.2843 0.0000 0.0000 0.3390 557.98 309.60)" font-family='"Liberation Sans", sans-serif' font-weight="400" font-size="60" stroke="#1b2020" stroke-width="5.64" stroke-linejoin="round" fill="#1b2020">PF1</text>
<text transform="matrix(0.3215 0.0000 0.0000 0.3390 598.89 309.60)" font-family='"Liberation Sans", sans-serif' font-weight="400" font-size="60" stroke="#1b2020" stroke-width="5.30" stroke-linejoin="round" fill="#1b2020">P2</text>
<text transform="matrix(0.3157 0.0000 0.0000 0.3390 629.32 309.60)" font-family='"Liberation Sans", sans-serif' font-weight="400" font-size="60" stroke="#1b2020" stroke-width="5.35" stroke-linejoin="round" fill="#1b2020">PF2</text>
<text transform="matrix(0.3833 0.0000 0.0000 0.3415 684.23 310.50)" font-family='"Liberation Sans", sans-serif' font-weight="400" font-size="60" stroke="#1b2020" stroke-width="4.84" stroke-linejoin="round" fill="#1b2020">Y</text>
<text transform="matrix(0.2696 0.0000 0.0000 0.3463 724.20 310.90)" font-family='"Liberation Sans", sans-serif' font-weight="400" font-size="60" stroke="#1b2020" stroke-width="5.73" stroke-linejoin="round" fill="#1b2020">W</text>
<text transform="matrix(0.3211 0.0000 0.0000 0.3610 770.44 311.30)" font-family='"Liberation Sans", sans-serif' font-weight="400" font-size="60" stroke="#1b2020" stroke-width="5.14" stroke-linejoin="round" fill="#1b2020">C</text>
<text transform="matrix(0.3510 0.0000 0.0000 0.4756 410.74 355.90)" font-family='"Liberation Sans", sans-serif' font-weight="400" font-size="60" stroke="#1b2020" stroke-width="4.28" stroke-linejoin="round" fill="#1b2020">NO.</text>
<text transform="matrix(0.7455 0.0000 0.0000 0.6359 458.61 355.30)" font-family='"Liberation Serif", "Noto Serif CJK SC", serif' font-weight="700" font-size="60" stroke="#1b2020" stroke-width="1.89" stroke-linejoin="round" fill="#1b2020">01832</text></g>
<g transform="translate(1023.0 389.4) rotate(2.60) scale(0.3000 0.2990) translate(-48.2 -19.8)"><path d="M57,19.8 L806,21.3 Q814.6,21.4 814.6,30 L813.8,366 Q813.7,375.6 805,375.3 L57,371.4 Q48.1,371.3 48.1,362.5 L48.4,28.5 Q48.4,19.8 57,19.8 Z" fill="#fff" stroke="#1b2020" stroke-width="4.2"/>
<polygon points="57.8,29.7 807.3,31.5 805.7,368.3 57.0,365.2" fill="none" stroke="#1b2020" stroke-width="3.75"/>
<polygon points="106.2,29.8 108.7,29.8 107.4,365.4 104.9,365.4" fill="#1b2020" stroke="#1b2020" stroke-width="1.25"/>
<polygon points="389.1,30.4 395.7,30.4 394.6,367 388.1,367" fill="#1b2020"/>
<polygon points="57.3,281.9 389,282.6 389,285.0 57.3,284.2" fill="#1b2020" stroke="#1b2020" stroke-width="1.25"/>
<polyline points="546.0,62.4 515.7,62.4 515.7,91.2" fill="none" stroke="#1b2020" stroke-width="2.90" stroke-linejoin="miter" />
<polyline points="546.0,62.4 579.4,62.4 579.4,91.5" fill="none" stroke="#1b2020" stroke-width="2.90" stroke-linejoin="miter" />
<polyline points="515.7,91.2 528.7,120.5" fill="none" stroke="#1b2020" stroke-width="2.90" stroke-linejoin="miter" />
<polyline points="579.4,91.5 591.8,120.9" fill="none" stroke="#1b2020" stroke-width="2.90" stroke-linejoin="miter" />
<polyline points="500.9,120.4 438.9,120.4 438.9,182.4" fill="none" stroke="#1b2020" stroke-width="2.90" stroke-linejoin="miter" />
<polyline points="528.7,120.5 528.7,144.9" fill="none" stroke="#1b2020" stroke-width="2.90" stroke-linejoin="miter" />
<polyline points="571.6,120.9 572.0,144.9 463.2,144.9 463.0,270.0" fill="none" stroke="#1b2020" stroke-width="2.90" stroke-linejoin="miter" />
<polyline points="591.8,120.9 591.8,173.6" fill="none" stroke="#1b2020" stroke-width="2.90" stroke-linejoin="miter" />
<polyline points="414.8,182.8 414.8,161.2 573.6,161.2 573.2,270.0" fill="none" stroke="#1b2020" stroke-width="2.90" stroke-linejoin="miter" />
<polyline points="438.9,182.4 426.3,213.7" fill="none" stroke="#1b2020" stroke-width="2.90" stroke-linejoin="miter" />
<polyline points="426.3,213.7 426.0,270.0" fill="none" stroke="#1b2020" stroke-width="2.90" stroke-linejoin="miter" />
<polyline points="426.3,234.0 463.2,234.0" fill="none" stroke="#1b2020" stroke-width="2.90" stroke-linejoin="miter" />
<polyline points="499.6,270.0 499.5,184.5 508.8,184.5" fill="none" stroke="#1b2020" stroke-width="2.90" stroke-linejoin="miter" />
<polyline points="508.6,176.0 528.0,183.6" fill="none" stroke="#1b2020" stroke-width="2.90" stroke-linejoin="miter" />
<polyline points="534.8,187.2 536.6,195.0" fill="none" stroke="#1b2020" stroke-width="2.90" stroke-linejoin="miter" />
<polyline points="548.9,199.3 536.6,223.5" fill="none" stroke="#1b2020" stroke-width="2.90" stroke-linejoin="miter" />
<polyline points="536.6,223.5 536.4,270.0" fill="none" stroke="#1b2020" stroke-width="2.90" stroke-linejoin="miter" />
<polyline points="620.9,174.1 646.4,174.1 646.6,270.0" fill="none" stroke="#1b2020" stroke-width="2.90" stroke-linejoin="miter" />
<polyline points="620.9,174.1 610.1,193.9" fill="none" stroke="#1b2020" stroke-width="2.90" stroke-linejoin="miter" />
<polyline points="610.1,193.9 609.9,270.0" fill="none" stroke="#1b2020" stroke-width="2.90" stroke-linejoin="miter" />
<polyline points="736.0,63.4 707.0,63.4 707.4,92.2" fill="none" stroke="#1b2020" stroke-width="2.90" stroke-linejoin="miter" />
<polyline points="736.0,63.4 767.0,63.4 766.7,92.7" fill="none" stroke="#1b2020" stroke-width="2.90" stroke-linejoin="miter" />
<polyline points="707.4,92.2 692.9,121.3" fill="none" stroke="#1b2020" stroke-width="2.90" stroke-linejoin="miter" />
<polyline points="766.7,92.7 748.9,121.3" fill="none" stroke="#1b2020" stroke-width="2.90" stroke-linejoin="miter" />
<polyline points="766.7,92.7 793.8,92.3 793.8,186.4 666.8,186.4 666.8,243.6" fill="none" stroke="#1b2020" stroke-width="2.90" stroke-linejoin="miter" />
<polyline points="692.9,121.3 692.5,206.8" fill="none" stroke="#1b2020" stroke-width="2.90" stroke-linejoin="miter" />
<polyline points="716.6,121.3 716.6,146.6 779.6,146.6 779.0,166.8 778.6,207.4" fill="none" stroke="#1b2020" stroke-width="2.90" stroke-linejoin="miter" />
<polyline points="748.9,121.3 748.9,146.6" fill="none" stroke="#1b2020" stroke-width="2.90" stroke-linejoin="miter" />
<polyline points="779.2,121.3 779.2,136.5 732.0,136.5 731.8,166.8 732.0,207.4" fill="none" stroke="#1b2020" stroke-width="2.90" stroke-linejoin="miter" />
<polyline points="731.8,166.8 779.4,166.8" fill="none" stroke="#1b2020" stroke-width="2.90" stroke-linejoin="miter" />
<polyline points="692.5,206.8 669.5,247.0" fill="none" stroke="#1b2020" stroke-width="2.90" stroke-linejoin="miter" />
<polyline points="691.9,243.6 691.9,270.0" fill="none" stroke="#1b2020" stroke-width="2.90" stroke-linejoin="miter" />
<polyline points="728.6,209.0 731.3,240.0 731.6,244.0 731.6,270.0" fill="none" stroke="#1b2020" stroke-width="2.90" stroke-linejoin="miter" />
<polyline points="775.6,209.0 778.3,240.0 778.6,244.0 778.6,270.0" fill="none" stroke="#1b2020" stroke-width="2.90" stroke-linejoin="miter" />
<circle cx="546.0" cy="62.8" r="13.6" fill="#fff" stroke="#1b2020" stroke-width="2.90"/>
<circle cx="736.4" cy="63.8" r="13.6" fill="#fff" stroke="#1b2020" stroke-width="2.90"/>
<circle cx="755.4" cy="166.8" r="13.6" fill="#fff" stroke="#1b2020" stroke-width="2.90"/>
<circle cx="444.5" cy="234.0" r="13.0" fill="#fff" stroke="#1b2020" stroke-width="2.90"/>
<circle cx="515.7" cy="91.2" r="4.3" fill="#fff" stroke="#1b2020" stroke-width="2.90"/>
<circle cx="579.4" cy="91.5" r="4.3" fill="#fff" stroke="#1b2020" stroke-width="2.90"/>
<circle cx="500.9" cy="120.4" r="4.3" fill="#fff" stroke="#1b2020" stroke-width="2.90"/>
<circle cx="571.6" cy="120.9" r="4.3" fill="#fff" stroke="#1b2020" stroke-width="2.90"/>
<circle cx="414.8" cy="182.8" r="4.3" fill="#fff" stroke="#1b2020" stroke-width="2.90"/>
<circle cx="426.3" cy="213.7" r="4.3" fill="#fff" stroke="#1b2020" stroke-width="2.90"/>
<circle cx="508.8" cy="184.5" r="4.3" fill="#fff" stroke="#1b2020" stroke-width="2.90"/>
<circle cx="531.8" cy="184.5" r="4.3" fill="#fff" stroke="#1b2020" stroke-width="2.90"/>
<circle cx="537.0" cy="199.1" r="4.3" fill="#fff" stroke="#1b2020" stroke-width="2.90"/>
<circle cx="536.6" cy="223.5" r="4.3" fill="#fff" stroke="#1b2020" stroke-width="2.90"/>
<circle cx="620.9" cy="174.1" r="4.3" fill="#fff" stroke="#1b2020" stroke-width="2.90"/>
<circle cx="610.1" cy="193.9" r="4.3" fill="#fff" stroke="#1b2020" stroke-width="2.90"/>
<circle cx="707.4" cy="92.2" r="4.3" fill="#fff" stroke="#1b2020" stroke-width="2.90"/>
<circle cx="766.7" cy="92.7" r="4.3" fill="#fff" stroke="#1b2020" stroke-width="2.90"/>
<circle cx="716.6" cy="121.3" r="4.3" fill="#fff" stroke="#1b2020" stroke-width="2.90"/>
<circle cx="779.2" cy="121.3" r="4.3" fill="#fff" stroke="#1b2020" stroke-width="2.90"/>
<circle cx="692.5" cy="206.8" r="4.3" fill="#fff" stroke="#1b2020" stroke-width="2.90"/>
<circle cx="691.9" cy="243.6" r="4.3" fill="#fff" stroke="#1b2020" stroke-width="2.90"/>
<circle cx="731.6" cy="244.0" r="4.3" fill="#fff" stroke="#1b2020" stroke-width="2.90"/>
<circle cx="778.6" cy="244.0" r="4.3" fill="#fff" stroke="#1b2020" stroke-width="2.90"/>
<circle cx="528.7" cy="120.5" r="3.05" fill="#fff" stroke="#1b2020" stroke-width="4.0"/>
<circle cx="591.8" cy="120.9" r="3.05" fill="#fff" stroke="#1b2020" stroke-width="4.0"/>
<circle cx="438.9" cy="182.4" r="3.05" fill="#fff" stroke="#1b2020" stroke-width="4.0"/>
<circle cx="591.8" cy="173.6" r="3.05" fill="#fff" stroke="#1b2020" stroke-width="4.0"/>
<circle cx="692.9" cy="121.3" r="3.05" fill="#fff" stroke="#1b2020" stroke-width="4.0"/>
<circle cx="748.9" cy="121.3" r="3.05" fill="#fff" stroke="#1b2020" stroke-width="4.0"/>
<circle cx="666.8" cy="243.6" r="3.05" fill="#fff" stroke="#1b2020" stroke-width="4.0"/>
<circle cx="732.0" cy="207.4" r="3.05" fill="#fff" stroke="#1b2020" stroke-width="4.0"/>
<circle cx="778.6" cy="207.4" r="3.05" fill="#fff" stroke="#1b2020" stroke-width="4.0"/>
<circle cx="731.8" cy="166.8" r="2.4" fill="#1b2020"/>
<circle cx="779.3" cy="166.8" r="2.4" fill="#1b2020"/>
<circle cx="425.8" cy="278.2" r="9.7" fill="#fff" stroke="#1b2020" stroke-width="3.40"/><circle cx="425.8" cy="278.2" r="6.2" fill="#fff" stroke="#1b2020" stroke-width="3.40"/>
<circle cx="462.9" cy="278.3" r="9.7" fill="#fff" stroke="#1b2020" stroke-width="3.40"/><circle cx="462.9" cy="278.3" r="6.2" fill="#fff" stroke="#1b2020" stroke-width="3.40"/>
<circle cx="499.6" cy="278.4" r="9.7" fill="#fff" stroke="#1b2020" stroke-width="3.40"/><circle cx="499.6" cy="278.4" r="6.2" fill="#fff" stroke="#1b2020" stroke-width="3.40"/>
<circle cx="536.4" cy="278.5" r="9.7" fill="#fff" stroke="#1b2020" stroke-width="3.40"/><circle cx="536.4" cy="278.5" r="6.2" fill="#fff" stroke="#1b2020" stroke-width="3.40"/>
<circle cx="573.1" cy="278.6" r="9.7" fill="#fff" stroke="#1b2020" stroke-width="3.40"/><circle cx="573.1" cy="278.6" r="6.2" fill="#fff" stroke="#1b2020" stroke-width="3.40"/>
<circle cx="609.9" cy="278.7" r="9.7" fill="#fff" stroke="#1b2020" stroke-width="3.40"/><circle cx="609.9" cy="278.7" r="6.2" fill="#fff" stroke="#1b2020" stroke-width="3.40"/>
<circle cx="646.6" cy="278.8" r="9.7" fill="#fff" stroke="#1b2020" stroke-width="3.40"/><circle cx="646.6" cy="278.8" r="6.2" fill="#fff" stroke="#1b2020" stroke-width="3.40"/>
<circle cx="691.9" cy="278.9" r="9.7" fill="#fff" stroke="#1b2020" stroke-width="3.40"/><circle cx="691.9" cy="278.9" r="6.2" fill="#fff" stroke="#1b2020" stroke-width="3.40"/>
<circle cx="731.6" cy="279.1" r="9.7" fill="#fff" stroke="#1b2020" stroke-width="3.40"/><circle cx="731.6" cy="279.1" r="6.2" fill="#fff" stroke="#1b2020" stroke-width="3.40"/>
<circle cx="778.6" cy="279.2" r="9.7" fill="#fff" stroke="#1b2020" stroke-width="3.40"/><circle cx="778.6" cy="279.2" r="6.2" fill="#fff" stroke="#1b2020" stroke-width="3.40"/>
<text transform="matrix(0.5423 0.0000 0.0000 0.4964 65.09 120.32)" font-family='"Noto Sans CJK JP", sans-serif' font-weight="500" font-size="60" stroke="#1b2020" stroke-width="2.51" stroke-linejoin="round" fill="#1b2020">防</text>
<text transform="matrix(0.5255 0.0000 0.0000 0.5036 65.52 218.48)" font-family='"Noto Sans CJK JP", sans-serif' font-weight="500" font-size="60" stroke="#1b2020" stroke-width="2.53" stroke-linejoin="round" fill="#1b2020">災</text>
<text transform="matrix(0.3058 0.0000 0.0000 0.4073 71.68 317.77)" font-family='"Noto Sans CJK JP", sans-serif' font-weight="700" font-size="60" stroke="#1b2020" stroke-width="3.68" stroke-linejoin="round" fill="#1b2020">空</text>
<text transform="matrix(0.2833 0.0000 0.0000 0.4018 72.93 347.89)" font-family='"Noto Sans CJK JP", sans-serif' font-weight="700" font-size="60" stroke="#1b2020" stroke-width="3.85" stroke-linejoin="round" fill="#1b2020">調</text>
<text transform="matrix(0.2669 0.0000 0.0000 0.2672 118.97 57.80)" font-family='"Noto Sans CJK JP", sans-serif' font-weight="700" font-size="60" stroke="#1b2020" stroke-width="4.87" stroke-linejoin="round" fill="#1b2020">定格電圧</text>
<text transform="matrix(0.3085 0.0000 0.0000 0.3463 311.46 58.70)" font-family='"Liberation Sans", sans-serif' font-weight="400" font-size="60" stroke="#1b2020" stroke-width="5.35" stroke-linejoin="round" fill="#1b2020">DC24V</text>
<text transform="matrix(0.2658 0.0000 0.0000 0.2776 118.97 87.33)" font-family='"Noto Sans CJK JP", sans-serif' font-weight="700" font-size="60" stroke="#1b2020" stroke-width="4.79" stroke-linejoin="round" fill="#1b2020">定格電流</text>
<text transform="matrix(0.3240 0.0000 0.0000 0.3561 331.25 88.90)" font-family='"Liberation Sans", sans-serif' font-weight="400" font-size="60" stroke="#1b2020" stroke-width="5.15" stroke-linejoin="round" fill="#1b2020">0.4A</text>
<text transform="matrix(0.2665 0.0000 0.0000 0.3000 118.20 125.70)" font-family='"Noto Sans CJK JP", sans-serif' font-weight="700" font-size="60" stroke="#1b2020" stroke-width="4.60" stroke-linejoin="round" fill="#1b2020">最低作動電圧</text>
<text transform="matrix(0.2244 0.0000 0.0000 0.2930 235.35 114.24)" font-family='"Noto Sans CJK JP", sans-serif' font-weight="700" font-size="60" stroke="#1b2020" stroke-width="5.07" stroke-linejoin="round" fill="#1b2020">作動時</text>
<text transform="matrix(0.2243 0.0000 0.0000 0.2948 236.08 135.93)" font-family='"Noto Sans CJK JP", sans-serif' font-weight="700" font-size="60" stroke="#1b2020" stroke-width="5.06" stroke-linejoin="round" fill="#1b2020">復帰時</text>
<text transform="matrix(0.3109 0.0000 0.0000 0.3415 295.45 114.90)" font-family='"Liberation Sans", sans-serif' font-weight="400" font-size="60" stroke="#1b2020" stroke-width="5.37" stroke-linejoin="round" fill="#1b2020">DC19.2V</text>
<text transform="matrix(0.3109 0.0000 0.0000 0.3415 295.45 136.00)" font-family='"Liberation Sans", sans-serif' font-weight="400" font-size="60" stroke="#1b2020" stroke-width="5.37" stroke-linejoin="round" fill="#1b2020">DC19.2V</text>
<text transform="matrix(0.2694 0.0000 0.0000 0.2810 117.65 162.61)" font-family='"Noto Sans CJK JP", sans-serif' font-weight="700" font-size="60" stroke="#1b2020" stroke-width="4.72" stroke-linejoin="round" fill="#1b2020">閉鎖力</text>
<text transform="matrix(0.3128 0.0000 0.0000 0.3366 283.66 164.00)" font-family='"Liberation Sans", sans-serif' font-weight="400" font-size="60" stroke="#1b2020" stroke-width="5.39" stroke-linejoin="round" fill="#1b2020">9.0</text>
<text transform="matrix(0.3188 0.0000 0.0000 0.3293 324.71 163.90)" font-family='"Liberation Sans", sans-serif' font-weight="400" font-size="60" stroke="#1b2020" stroke-width="5.40" stroke-linejoin="round" fill="#1b2020">N · m</text>
<text transform="matrix(0.2702 0.0000 0.0000 0.2707 117.92 189.08)" font-family='"Noto Sans CJK JP", sans-serif' font-weight="700" font-size="60" stroke="#1b2020" stroke-width="4.81" stroke-linejoin="round" fill="#1b2020">時間定格</text>
<text transform="matrix(0.2712 0.0000 0.0000 0.2707 305.06 189.08)" font-family='"Noto Sans CJK JP", sans-serif' font-weight="700" font-size="60" stroke="#1b2020" stroke-width="4.80" stroke-linejoin="round" fill="#1b2020">自己遮断</text>
<text transform="matrix(0.2659 0.0000 0.0000 0.2793 118.73 213.92)" font-family='"Noto Sans CJK JP", sans-serif' font-weight="700" font-size="60" stroke="#1b2020" stroke-width="4.77" stroke-linejoin="round" fill="#1b2020">使用周囲温度範囲</text>
<text transform="matrix(0.2700 0.0000 0.0000 0.2979 274.76 214.50)" font-family='"Noto Sans CJK JP", sans-serif' font-weight="500" font-size="60" stroke="#1b2020" stroke-width="4.58" stroke-linejoin="round" fill="#1b2020">−10℃～40℃</text>
<text transform="matrix(0.2076 0.0000 0.0000 0.2641 149.56 236.83)" font-family='"Noto Sans CJK JP", sans-serif' font-weight="700" font-size="60" stroke="#1b2020" stroke-width="5.55" stroke-linejoin="round" fill="#1b2020">(但し結露・着霜・結氷の生じないこと)</text>
<text transform="matrix(0.2625 0.0000 0.0000 0.2862 118.18 268.08)" font-family='"Noto Sans CJK JP", sans-serif' font-weight="700" font-size="60" stroke="#1b2020" stroke-width="4.74" stroke-linejoin="round" fill="#1b2020">製造年</text>
<text transform="matrix(0.3484 0.0000 0.0000 0.2964 303.25 268.32)" font-family='"Liberation Sans", "Noto Sans CJK JP", sans-serif' font-weight="500" font-size="60" stroke="#1b2020" stroke-width="4.05" stroke-linejoin="round" fill="#1b2020">2024年</text>
<text transform="matrix(0.2636 0.0000 0.0000 0.2638 118.17 308.62)" font-family='"Noto Sans CJK JP", sans-serif' font-weight="700" font-size="60" stroke="#1b2020" stroke-width="4.93" stroke-linejoin="round" fill="#1b2020">定格電圧</text>
<text transform="matrix(0.3218 0.0000 0.0000 0.3375 275.50 309.54)" font-family='"Liberation Sans", sans-serif' font-weight="400" font-size="60" stroke="#1b2020" stroke-width="5.31" stroke-linejoin="round" fill="#1b2020">AC,DC24V</text>
<text transform="matrix(0.2624 0.0000 0.0000 0.2741 118.18 331.96)" font-family='"Noto Sans CJK JP", sans-serif' font-weight="700" font-size="60" stroke="#1b2020" stroke-width="4.85" stroke-linejoin="round" fill="#1b2020">定格電流</text>
<text transform="matrix(0.3339 0.0000 0.0000 0.3439 328.73 333.20)" font-family='"Liberation Sans", sans-serif' font-weight="400" font-size="60" stroke="#1b2020" stroke-width="5.16" stroke-linejoin="round" fill="#1b2020">0.4A</text>
<text transform="matrix(0.2651 0.0000 0.0000 0.2912 117.90 354.85)" font-family='"Noto Sans CJK JP", sans-serif' font-weight="700" font-size="60" stroke="#1b2020" stroke-width="4.68" stroke-linejoin="round" fill="#1b2020">最低作動電圧</text>
<text transform="matrix(0.3227 0.0000 0.0000 0.3271 259.10 355.11)" font-family='"Liberation Sans", sans-serif' font-weight="400" font-size="60" stroke="#1b2020" stroke-width="5.39" stroke-linejoin="round" fill="#1b2020">AC,DC21.6V</text>
<text transform="matrix(0.4541 0.0000 0.0000 0.5317 404.23 66.30)" font-family='"Liberation Sans", sans-serif' font-weight="400" font-size="60" stroke="#1b2020" stroke-width="3.56" stroke-linejoin="round" fill="#1b2020">KK-70M</text>
<text transform="matrix(0.1948 0.0000 0.0000 0.3098 533.92 69.70)" font-family='"Liberation Sans", sans-serif' font-weight="400" font-size="60" stroke="#1b2020" stroke-width="7.12" stroke-linejoin="round" fill="#1b2020">SOL</text>
<text transform="matrix(0.3550 0.0000 0.0000 0.3146 727.73 70.10)" font-family='"Liberation Sans", sans-serif' font-weight="400" font-size="60" stroke="#1b2020" stroke-width="5.24" stroke-linejoin="round" fill="#1b2020">M</text>
<text transform="matrix(0.3714 0.0000 0.0000 0.3220 744.94 173.70)" font-family='"Liberation Sans", sans-serif' font-weight="400" font-size="60" stroke="#1b2020" stroke-width="5.06" stroke-linejoin="round" fill="#1b2020">R</text>
<text transform="matrix(0.1160 0.0000 0.0000 0.1439 759.72 174.10)" font-family='"Liberation Sans", sans-serif' font-weight="400" font-size="60" stroke="#1b2020" stroke-width="13.54" stroke-linejoin="round" fill="#1b2020">1</text>
<text transform="matrix(0.3457 0.0000 0.0000 0.3049 433.37 240.20)" font-family='"Liberation Sans", sans-serif' font-weight="400" font-size="60" stroke="#1b2020" stroke-width="5.39" stroke-linejoin="round" fill="#1b2020">R</text>
<text transform="matrix(0.1889 0.0000 0.0000 0.1390 447.23 240.90)" font-family='"Liberation Sans", sans-serif' font-weight="400" font-size="60" stroke="#1b2020" stroke-width="10.80" stroke-linejoin="round" fill="#1b2020">2</text>
<text transform="matrix(0.4267 0.0000 0.0000 0.3968 491.29 97.90)" font-family='"Liberation Sans", sans-serif' font-weight="400" font-size="60" stroke="#1b2020" stroke-width="4.25" stroke-linejoin="round" fill="#1b2020">r</text>
<text transform="matrix(0.1852 0.0000 0.0000 0.1317 500.14 97.90)" font-family='"Liberation Sans", sans-serif' font-weight="400" font-size="60" stroke="#1b2020" stroke-width="11.21" stroke-linejoin="round" fill="#1b2020">2</text>
<text transform="matrix(0.4000 0.0000 0.0000 0.3968 557.80 97.90)" font-family='"Liberation Sans", sans-serif' font-weight="400" font-size="60" stroke="#1b2020" stroke-width="4.39" stroke-linejoin="round" fill="#1b2020">r</text>
<text transform="matrix(0.1889 0.0000 0.0000 0.1317 566.33 97.90)" font-family='"Liberation Sans", sans-serif' font-weight="400" font-size="60" stroke="#1b2020" stroke-width="11.10" stroke-linejoin="round" fill="#1b2020">2</text>
<text transform="matrix(0.4000 0.0000 0.0000 0.3968 682.80 98.50)" font-family='"Liberation Sans", sans-serif' font-weight="400" font-size="60" stroke="#1b2020" stroke-width="4.39" stroke-linejoin="round" fill="#1b2020">r</text>
<text transform="matrix(0.1360 0.0000 0.0000 0.1390 691.32 98.50)" font-family='"Liberation Sans", sans-serif' font-weight="400" font-size="60" stroke="#1b2020" stroke-width="12.73" stroke-linejoin="round" fill="#1b2020">1</text>
<text transform="matrix(0.4067 0.0000 0.0000 0.3968 743.07 98.50)" font-family='"Liberation Sans", sans-serif' font-weight="400" font-size="60" stroke="#1b2020" stroke-width="4.36" stroke-linejoin="round" fill="#1b2020">r</text>
<text transform="matrix(0.1360 0.0000 0.0000 0.1390 751.52 98.50)" font-family='"Liberation Sans", sans-serif' font-weight="400" font-size="60" stroke="#1b2020" stroke-width="12.73" stroke-linejoin="round" fill="#1b2020">1</text>
<text transform="matrix(0.2738 0.0000 0.0000 0.3390 413.53 309.60)" font-family='"Liberation Sans", sans-serif' font-weight="400" font-size="60" stroke="#1b2020" stroke-width="5.74" stroke-linejoin="round" fill="#1b2020">P1</text>
<text transform="matrix(0.3235 0.0000 0.0000 0.3488 440.73 309.80)" font-family='"Liberation Sans", sans-serif' font-weight="400" font-size="60" stroke="#1b2020" stroke-width="5.21" stroke-linejoin="round" fill="#1b2020">COM</text>
<text transform="matrix(0.2712 0.0000 0.0000 0.3390 489.04 309.60)" font-family='"Liberation Sans", sans-serif' font-weight="400" font-size="60" stroke="#1b2020" stroke-width="5.77" stroke-linejoin="round" fill="#1b2020">L1</text>
<text transform="matrix(0.2644 0.0000 0.0000 0.3390 526.08 309.60)" font-family='"Liberation Sans", sans-serif' font-weight="400" font-size="60" stroke="#1b2020" stroke-width="5.85" stroke-linejoin="round" fill="#1b2020">L1</text>
<text transform="matrix(0.2843 0.0000 0.0000 0.3390 557.98 309.60)" font-family='"Liberation Sans", sans-serif' font-weight="400" font-size="60" stroke="#1b2020" stroke-width="5.64" stroke-linejoin="round" fill="#1b2020">PF1</text>
<text transform="matrix(0.3215 0.0000 0.0000 0.3390 598.89 309.60)" font-family='"Liberation Sans", sans-serif' font-weight="400" font-size="60" stroke="#1b2020" stroke-width="5.30" stroke-linejoin="round" fill="#1b2020">P2</text>
<text transform="matrix(0.3157 0.0000 0.0000 0.3390 629.32 309.60)" font-family='"Liberation Sans", sans-serif' font-weight="400" font-size="60" stroke="#1b2020" stroke-width="5.35" stroke-linejoin="round" fill="#1b2020">PF2</text>
<text transform="matrix(0.3833 0.0000 0.0000 0.3415 684.23 310.50)" font-family='"Liberation Sans", sans-serif' font-weight="400" font-size="60" stroke="#1b2020" stroke-width="4.84" stroke-linejoin="round" fill="#1b2020">Y</text>
<text transform="matrix(0.2696 0.0000 0.0000 0.3463 724.20 310.90)" font-family='"Liberation Sans", sans-serif' font-weight="400" font-size="60" stroke="#1b2020" stroke-width="5.73" stroke-linejoin="round" fill="#1b2020">W</text>
<text transform="matrix(0.3211 0.0000 0.0000 0.3610 770.44 311.30)" font-family='"Liberation Sans", sans-serif' font-weight="400" font-size="60" stroke="#1b2020" stroke-width="5.14" stroke-linejoin="round" fill="#1b2020">C</text>
<text transform="matrix(0.3510 0.0000 0.0000 0.4756 410.74 355.90)" font-family='"Liberation Sans", sans-serif' font-weight="400" font-size="60" stroke="#1b2020" stroke-width="4.28" stroke-linejoin="round" fill="#1b2020">NO.</text>
<text transform="matrix(0.7455 0.0000 0.0000 0.6359 458.61 355.30)" font-family='"Liberation Serif", "Noto Serif CJK SC", serif' font-weight="700" font-size="60" stroke="#1b2020" stroke-width="1.89" stroke-linejoin="round" fill="#1b2020">01832</text></g>
<path d="M918,10.5 L1100,14" fill="none" stroke="#ececec" stroke-width="1.20" stroke-linecap="round" stroke-linejoin="round" />
<path d="M1100,14 L1408,22" fill="none" stroke="#f6f6f6" stroke-width="1.00" stroke-linecap="round" stroke-linejoin="round" />
<path d="M916,30 L916,740" fill="none" stroke="#f8f8f8" stroke-width="1.00" stroke-linecap="round" stroke-linejoin="round" />
<path d="M890,757 L1000,760 L1130,762" fill="none" stroke="#e2e2e2" stroke-width="1.60" stroke-linecap="round" stroke-linejoin="round" />
<path d="M995.9,53.7 C1010,50 1030,49 1037,48.4 C1060,47 1075,46.8 1082.7,46.8 C1100,46.8 1120,47.6 1140,48 C1160,49 1175,50 1185.7,50.7 C1205,52.5 1220,54.5 1231.4,56 C1242,57.5 1252,58 1258.8,59.8 C1266,62 1271,65.5 1274.8,69.7 C1279,74 1282,79 1283.9,84.5 C1286,90 1287,96 1287.3,102.8" fill="none" stroke="#1b2020" stroke-width="2.30" stroke-linecap="round" stroke-linejoin="round" />
<path d="M1287.3,102.8 C1287,115 1286.3,126 1285.7,137 L1283.9,175 L1274.6,360 L1270,460 L1268.2,490 L1262.6,641.5" fill="none" stroke="#1b2020" stroke-width="1.50" stroke-linecap="round" stroke-linejoin="round" />
<path d="M995.9,53.7 C990,57 987,62 984.5,68.5 C980,80 978.5,92 978.8,102.8 C978.8,115 979.5,127 981.1,137 C983,146 986.5,151.5 991.4,155.3 C995,158.5 999,161 1002.8,162.2 C1006,163 1010,162 1013.1,161" fill="none" stroke="#1b2020" stroke-width="2.20" stroke-linecap="round" stroke-linejoin="round" />
<path d="M995.9,53.7 C1001,54 1006,55 1009.6,57.1 C1013,60 1014.5,64 1015.3,68.5 C1016.3,76 1016.6,84 1016.5,91.4" fill="none" stroke="#1b2020" stroke-width="2.20" stroke-linecap="round" stroke-linejoin="round" />
<path d="M1016.5,91.4 L1014.2,137 L1013,175 L1009.7,241.4 L1007,290 L999.8,440 L991.1,620 L989.6,627.5" fill="none" stroke="#1b2020" stroke-width="1.50" stroke-linecap="round" stroke-linejoin="round" />
<ellipse cx="1001.8" cy="109.6" rx="8.3" ry="19.8" transform="rotate(4 1001.8 109.6)" fill="none" stroke="#1b2020" stroke-width="2"/>
<path d="M996.5,109.6 C992,116 988,123 984.5,130.2 C981,139 979,147 977.7,155.3 C976.8,162 976.3,168 976.5,173.5" fill="none" stroke="#1b2020" stroke-width="2.00" stroke-linecap="round" stroke-linejoin="round" />
<path d="M1154.8,49.5 L1149.8,167.5" fill="none" stroke="#1b2020" stroke-width="1.50" stroke-linecap="round" stroke-linejoin="round" />
<path d="M1133,503.6 L1127.6,635.2" fill="none" stroke="#1b2020" stroke-width="1.80" stroke-linecap="round" stroke-linejoin="round" />
<path d="M989.6,627.5 L1100,634.2 L1262.6,641.5" fill="none" stroke="#1b2020" stroke-width="1.40" stroke-linecap="round" stroke-linejoin="round" />
<path d="M1157.8,134.3 C1168,132.5 1177,132 1185.7,132 C1202,132 1217,133.5 1231.4,135.9 C1243,138.5 1255,142 1265.6,146.2 C1275,149.5 1284,153 1293,156.5" fill="none" stroke="#1b2020" stroke-width="2.00" stroke-linecap="round" stroke-linejoin="round" />
<path d="M1129.2,85.7 L1128.6,110.8 M1129.2,85.7 C1132,87 1134,89 1135.3,91.6 M1128.8,102.5 C1131.5,104.5 1133,107.5 1134,110.8 M1127.3,128 C1129.5,129.5 1131,132 1131.8,134.8" fill="none" stroke="#1b2020" stroke-width="1.80" stroke-linecap="round" stroke-linejoin="round" />
<circle cx="949.0" cy="115.0" r="1.0" fill="#1b2020"/>
<path d="M1255.7,390.7 C1263,393 1271,396 1277.9,399.2 C1271,401 1264,402 1257.6,403.3" fill="none" stroke="#1b2020" stroke-width="2.40" stroke-linecap="round" stroke-linejoin="round" />
<path d="M942.3,518.7 L941.8,591.5 M931.7,578.6 L941.8,591.5 L954.5,565.7" fill="none" stroke="#1b2020" stroke-width="2.00" stroke-linecap="round" stroke-linejoin="round" />
<path d="M1155.4,514 L1150.2,633.2 M1147.6,526.6 L1155.4,514 L1163.7,522.4 M1142.8,625.8 L1150.2,633.2 L1159.1,616.4" fill="none" stroke="#1b2020" stroke-width="2.20" stroke-linecap="round" stroke-linejoin="round" />
<path d="M1119.9,522.4 L1124.7,527.6 M1117.8,539.1 L1123,543.9 M1115.7,559 L1121.9,564.8" fill="none" stroke="#1b2020" stroke-width="1.70" stroke-linecap="round" stroke-linejoin="round" />
<path d="M983.7,650.2 L1040.9,656.4 M993.7,639.4 L983.7,650.2 L993.7,661" fill="none" stroke="#1b2020" stroke-width="2.00" stroke-linecap="round" stroke-linejoin="round" />
<path d="M1147.3,660.4 L1257.8,664.5 M1248.4,655 L1257.8,664.5 L1247,672.6" fill="none" stroke="#1b2020" stroke-width="2.00" stroke-linecap="round" stroke-linejoin="round" />
<path d="M1010.8,683.5 Q1026,680 1032.3,673.1 Q1037,682.5 1047.5,682.1 Q1062,681 1070.3,675.9 Q1076,683 1087.6,682.8 Q1095,682.5 1100.8,680.8 Q1108,686.5 1119.5,686.3 Q1136,684.5 1147.1,678.7 Q1152,687 1163.8,687.7 Q1179,685 1188.7,678 Q1193,689 1205.4,689.8 Q1228,687 1245.5,680.8 Q1249,688.5 1257.9,689.1 Q1270,688.5 1278.7,687 Q1281,694 1288.4,696 Q1298,697 1306.4,696 Q1301,706 1309.1,715.4 Q1312,718.5 1316.1,719.5 Q1307,720 1302.9,730.6 Q1291,735 1289.1,748.6" fill="none" stroke="#e2335c" stroke-width="1.80" stroke-linecap="round" stroke-linejoin="round" />
<path d="M1001.1,686.3 Q1000.5,698 996.3,705.7" fill="none" stroke="#e88aa2" stroke-width="1.00" stroke-linecap="round" stroke-linejoin="round" />
<path d="M985.9,707 Q997,712 1003.2,727.8 L1001.8,729.9 Q1018,723 1025.4,727.8 Q1033,731 1039.2,738.9 Q1052,729 1069.6,730.6 Q1079,732.5 1086.2,738.9 Q1100,731.5 1115.3,734.7 Q1124,737 1130.5,741.7 Q1146,733.5 1163.8,737.5 Q1174,739.5 1180.4,743.7 Q1194,735.5 1209.5,736.8 Q1219,738.5 1226.1,743.7 Q1240,736.5 1257.9,736.8 Q1270,738 1278,744.4" fill="none" stroke="#e2335c" stroke-width="1.90" stroke-linecap="round" stroke-linejoin="round" />
<ellipse cx="1088" cy="394.5" rx="1.4" ry="3" fill="#d8405a"/>
<text transform="matrix(0.4042 0.0000 -0.0325 0.6200 1290.91 193.32)" font-family='"Noto Sans CJK JP", sans-serif' font-weight="300" font-size="60" stroke="#1b2020" stroke-width="1.00" stroke-linejoin="round" fill="#1b2020">中</text>
<text transform="matrix(0.3161 0.0000 -0.0243 0.4636 1308.70 189.65)" font-family='"Noto Sans CJK JP", sans-serif' font-weight="400" font-size="60" stroke="#1b2020" stroke-width="0.76" stroke-linejoin="round" fill="#1b2020">心</text>
<text transform="matrix(0.3846 0.0000 -0.0314 0.5982 1327.64 193.41)" font-family='"Noto Sans CJK JP", sans-serif' font-weight="300" font-size="60" stroke="#1b2020" stroke-width="1.19" stroke-linejoin="round" fill="#1b2020">背</text>
<text transform="matrix(0.3922 0.0000 -0.0292 0.5564 1348.75 188.87)" font-family='"Noto Sans CJK JP", sans-serif' font-weight="300" font-size="60" stroke="#1b2020" stroke-width="1.30" stroke-linejoin="round" fill="#1b2020">割</text>
<text transform="matrix(0.2647 0.0000 -0.0278 0.5314 1368.33 190.71)" font-family='"Noto Sans CJK JP", sans-serif' font-weight="400" font-size="60" stroke="#1b2020" stroke-width="0.87" stroke-linejoin="round" fill="#1b2020">り</text>
<text transform="matrix(0.3907 0.0000 -0.0249 0.4750 1381.11 188.72)" font-family='"Noto Sans CJK JP", sans-serif' font-weight="400" font-size="60" stroke="#1b2020" stroke-width="0.21" stroke-linejoin="round" fill="#1b2020">入</text>
<text transform="matrix(0.3438 0.0000 -0.0519 0.7426 940.67 217.11)" font-family='"Noto Sans CJK JP", sans-serif' font-weight="300" font-size="60" stroke="#1b2020" stroke-width="1.05" stroke-linejoin="round" fill="#1b2020">リ</text>
<text transform="rotate(-9.00 967.9 196.2) matrix(0.2562 0.0000 0.0000 0.4600 960.16 206.96)" font-family='"Noto Sans CJK JP", sans-serif' font-weight="400" font-size="60" fill="#1b2020">ー</text>
<text transform="matrix(0.5344 0.0000 -0.0378 0.5404 965.83 205.92)" font-family='"Noto Sans CJK JP", sans-serif' font-weight="300" font-size="60" stroke="#1b2020" stroke-width="0.86" stroke-linejoin="round" fill="#1b2020">ド</text>
<text transform="matrix(0.2773 0.0000 -0.0462 0.8810 942.67 267.30)" font-family='"Noto Sans CJK JP", sans-serif' font-weight="300" font-size="60" stroke="#1b2020" stroke-width="1.18" stroke-linejoin="round" fill="#1b2020">1</text>
<text transform="matrix(0.3633 0.0000 -0.0318 0.6075 957.23 258.76)" font-family='"Noto Sans CJK JP", sans-serif' font-weight="300" font-size="60" stroke="#1b2020" stroke-width="1.28" stroke-linejoin="round" fill="#1b2020">周</text>
<text transform="matrix(0.2446 0.0000 -0.0319 0.6091 979.69 256.65)" font-family='"Noto Sans CJK JP", sans-serif' font-weight="400" font-size="60" stroke="#1b2020" stroke-width="0.72" stroke-linejoin="round" fill="#1b2020">分</text>
<text transform="matrix(0.5222 0.0000 -0.0526 0.5000 1276.45 409.00)" font-family='"Noto Sans CJK JP", sans-serif' font-weight="300" font-size="60" stroke="#1b2020" stroke-width="0.98" stroke-linejoin="round" fill="#1b2020">3</text>
<text transform="matrix(0.2437 0.0000 -0.0583 0.4147 1292.89 409.50)" font-family='"Noto Sans CJK JP", sans-serif' font-weight="500" font-size="60" stroke="#1b2020" stroke-width="0.50" stroke-linejoin="round" fill="#1b2020">mm</text>
<text transform="matrix(0.3400 0.0000 -0.0958 0.3843 1315.31 409.53)" font-family='"Noto Sans CJK JP", sans-serif' font-weight="400" font-size="60" stroke="#1b2020" stroke-width="1.06" stroke-linejoin="round" fill="#1b2020">ピ</text>
<text transform="matrix(0.1585 0.0000 -0.0393 0.1575 1334.63 411.81)" font-family='"Noto Sans CJK JP", sans-serif' font-weight="500" font-size="60" stroke="#1b2020" stroke-width="6.42" stroke-linejoin="round" fill="#1b2020">ッ</text>
<text transform="matrix(0.3438 0.0000 -0.2122 0.8511 1338.58 427.40)" font-family='"Noto Sans CJK JP", sans-serif' font-weight="300" font-size="60" stroke="#1b2020" stroke-width="0.78" stroke-linejoin="round" fill="#1b2020">チ</text>
<text transform="rotate(6.00 924.0 476.7) matrix(0.3840 0.0000 0.0000 0.5263 912.48 487.75)" font-family='"Noto Sans CJK JP", sans-serif' font-weight="400" font-size="60" stroke="#1b2020" stroke-width="0.03" stroke-linejoin="round" fill="#1b2020">エ</text>
<text transform="rotate(6.00 943.5 478.9) matrix(0.3449 0.0000 0.0000 0.5708 933.72 492.03)" font-family='"Noto Sans CJK JP", sans-serif' font-weight="400" font-size="60" stroke="#1b2020" stroke-width="0.08" stroke-linejoin="round" fill="#1b2020">セ</text>
<text transform="rotate(6.00 959.8 487.9) matrix(0.4761 0.0000 0.0000 0.5709 945.57 500.75)" font-family='"Noto Sans CJK JP", sans-serif' font-weight="300" font-size="60" stroke="#1b2020" stroke-width="0.88" stroke-linejoin="round" fill="#1b2020">出</text>
<text transform="rotate(6.00 984.5 492.6) matrix(0.5300 0.0000 0.0000 0.3440 966.48 500.17)" font-family='"Noto Sans CJK JP", sans-serif' font-weight="400" font-size="60" stroke="#1b2020" stroke-width="0.25" stroke-linejoin="round" fill="#1b2020">し</text>
<text transform="matrix(0.3265 0.0000 -0.0572 0.5438 1168.80 558.61)" font-family='"Noto Sans CJK JP", sans-serif' font-weight="400" font-size="60" stroke="#1b2020" stroke-width="0.31" stroke-linejoin="round" fill="#1b2020">リ</text>
<text transform="rotate(-9.00 1193.8 544.3) matrix(0.1938 0.0000 0.0000 0.4400 1187.94 554.64)" font-family='"Noto Sans CJK JP", sans-serif' font-weight="400" font-size="60" fill="#1b2020">ー</text>
<text transform="matrix(0.6562 0.0000 -0.0512 0.4872 1186.13 554.33)" font-family='"Noto Sans CJK JP", sans-serif' font-weight="300" font-size="60" stroke="#1b2020" stroke-width="0.68" stroke-linejoin="round" fill="#1b2020">ド</text>
<text transform="matrix(0.1833 0.0000 -0.0728 0.6930 1173.62 600.60)" font-family='"Noto Sans CJK JP", sans-serif' font-weight="400" font-size="60" stroke="#1b2020" stroke-width="1.13" stroke-linejoin="round" fill="#1b2020">1</text>
<text transform="matrix(0.4551 0.0000 -0.0567 0.5396 1183.42 597.30)" font-family='"Noto Sans CJK JP", sans-serif' font-weight="300" font-size="60" stroke="#1b2020" stroke-width="1.07" stroke-linejoin="round" fill="#1b2020">周</text>
<text transform="matrix(0.3554 0.0000 -0.0497 0.4727 1208.97 596.94)" font-family='"Noto Sans CJK JP", sans-serif' font-weight="400" font-size="60" stroke="#1b2020" stroke-width="0.44" stroke-linejoin="round" fill="#1b2020">分</text>
<text transform="matrix(0.5136 0.0000 -0.2130 0.7429 1048.04 671.30)" font-family='"Noto Sans CJK JP", sans-serif' font-weight="300" font-size="60" stroke="#1b2020" stroke-width="0.41" stroke-linejoin="round" fill="#1b2020">1</text>
<text transform="matrix(0.7103 0.0000 -0.1789 0.6238 1064.03 670.60)" font-family='"Noto Sans CJK JP", sans-serif' font-weight="300" font-size="60" stroke="#1b2020" stroke-width="0.11" stroke-linejoin="round" fill="#1b2020">4</text>
<text transform="matrix(0.6154 0.0000 -0.1675 0.5841 1085.34 667.62)" font-family='"Noto Sans CJK JP", sans-serif' font-weight="300" font-size="60" stroke="#1b2020" stroke-width="0.43" stroke-linejoin="round" fill="#1b2020">0</text>
<text transform="matrix(0.4565 0.0000 -0.1439 0.5018 1104.49 674.69)" font-family='"Noto Sans CJK JP", sans-serif' font-weight="300" font-size="60" stroke="#1b2020" stroke-width="1.18" stroke-linejoin="round" fill="#1b2020">巾</text>
<text transform="matrix(0.5259 0.0000 -0.0936 0.6661 1010.57 721.67)" font-family='"Noto Sans CJK JP", sans-serif' font-weight="300" font-size="60" stroke="#1b2020" stroke-width="0.42" stroke-linejoin="round" fill="#1b2020">若</text>
<text transform="matrix(0.4870 0.0000 -0.0795 0.5655 1040.75 716.67)" font-family='"Noto Sans CJK JP", sans-serif' font-weight="300" font-size="60" stroke="#1b2020" stroke-width="0.85" stroke-linejoin="round" fill="#1b2020">番</text>
<text transform="matrix(0.3204 0.0000 -0.0739 0.5259 1072.61 719.67)" font-family='"Noto Sans CJK JP", sans-serif' font-weight="400" font-size="60" stroke="#1b2020" stroke-width="0.43" stroke-linejoin="round" fill="#1b2020">号</text>
<text transform="matrix(0.6667 0.0000 -0.0730 0.5196 1091.52 719.00)" font-family='"Noto Sans CJK JP", sans-serif' font-weight="300" font-size="60" stroke="#1b2020" stroke-width="0.43" stroke-linejoin="round" fill="#1b2020">巻</text>
<text transform="matrix(0.3298 0.0000 -0.0730 0.5196 1132.36 721.10)" font-family='"Noto Sans CJK JP", sans-serif' font-weight="400" font-size="60" stroke="#1b2020" stroke-width="0.39" stroke-linejoin="round" fill="#1b2020">外</text>
<text transform="matrix(0.4164 0.0000 -0.0741 0.5273 1154.82 723.76)" font-family='"Noto Sans CJK JP", sans-serif' font-weight="300" font-size="60" stroke="#1b2020" stroke-width="1.26" stroke-linejoin="round" fill="#1b2020">側</text>
<text transform="matrix(0.2647 0.0000 -0.0686 0.4882 1177.51 724.94)" font-family='"Noto Sans CJK JP", sans-serif' font-weight="400" font-size="60" stroke="#1b2020" stroke-width="1.09" stroke-linejoin="round" fill="#1b2020">り</text>
<text transform="matrix(0.2936 0.0000 -0.0688 0.4896 1197.63 724.02)" font-family='"Noto Sans CJK JP", sans-serif' font-weight="400" font-size="60" stroke="#1b2020" stroke-width="0.81" stroke-linejoin="round" fill="#1b2020">に</text>
<text transform="matrix(0.3687 0.0000 -0.0403 0.2868 1209.67 719.75)" font-family='"Noto Sans CJK JP", sans-serif' font-weight="500" font-size="60" stroke="#1b2020" stroke-width="0.30" stroke-linejoin="round" fill="#1b2020">く</text>
<text transform="matrix(0.2848 0.0000 -0.0516 0.3673 1226.78 718.40)" font-family='"Noto Sans CJK JP", sans-serif' font-weight="500" font-size="60" stroke="#1b2020" stroke-width="0.35" stroke-linejoin="round" fill="#1b2020">る</text>
<text transform="matrix(0.3535 0.0000 -0.0648 0.4608 1239.82 719.52)" font-family='"Noto Sans CJK JP", sans-serif' font-weight="400" font-size="60" stroke="#1b2020" stroke-width="0.51" stroke-linejoin="round" fill="#1b2020">よ</text>
<text transform="matrix(0.4028 0.0000 -0.0794 0.5653 1251.08 721.87)" font-family='"Noto Sans CJK JP", sans-serif' font-weight="300" font-size="60" stroke="#1b2020" stroke-width="1.26" stroke-linejoin="round" fill="#1b2020">う</text>
<text transform="matrix(0.3979 0.0000 -0.0670 0.4771 1268.24 723.45)" font-family='"Noto Sans CJK JP", sans-serif' font-weight="400" font-size="60" stroke="#1b2020" stroke-width="0.16" stroke-linejoin="round" fill="#1b2020">に</text>
</g></svg></body></html>
